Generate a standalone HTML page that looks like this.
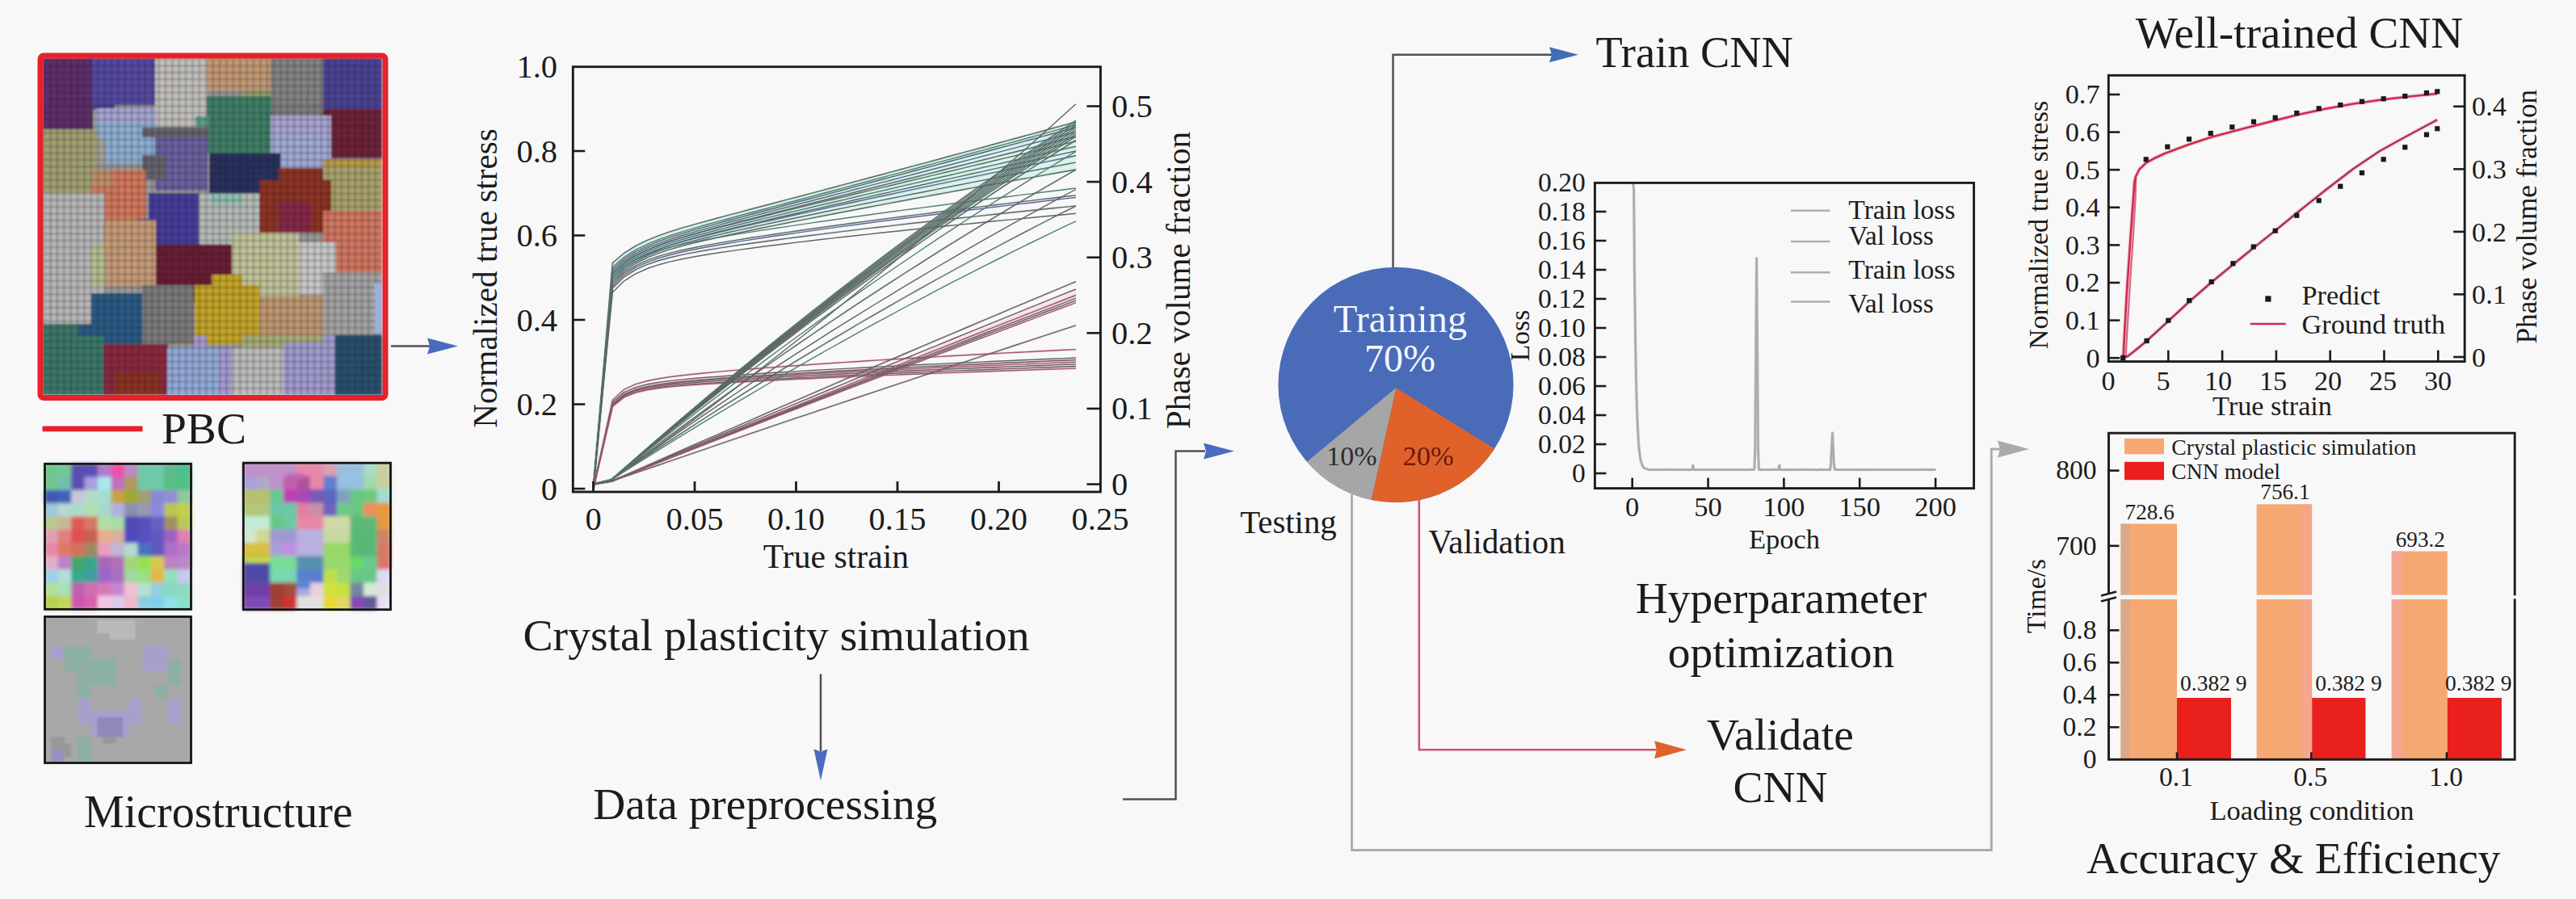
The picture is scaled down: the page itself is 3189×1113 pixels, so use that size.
<!DOCTYPE html>
<html><head><meta charset="utf-8"><title>CNN crystal plasticity workflow</title>
<style>
html,body{margin:0;padding:0;background:#f8f8f8;}
body{width:3189px;height:1113px;overflow:hidden;}
svg{display:block;}
text{font-family:"Liberation Serif",serif;}
</style></head><body>
<svg width="3189" height="1113" viewBox="0 0 3189 1113">
<defs>
<filter id="blur1" x="-5%" y="-5%" width="110%" height="110%"><feGaussianBlur stdDeviation="1.2"/></filter>
<filter id="blur2" x="-5%" y="-5%" width="110%" height="110%"><feGaussianBlur stdDeviation="2.2"/></filter>
<pattern id="grid" x="53.5" y="72.5" width="8.38" height="8.32" patternUnits="userSpaceOnUse">
<path d="M0 0H8.38M0 0V8.32" stroke="#1c1c1c" stroke-opacity="0.5" stroke-width="2.4" fill="none"/>
</pattern>
</defs>
<rect width="3189" height="1113" fill="#f8f8f8"/>
<g id="mosaic">
<g filter="url(#blur1)">
<rect x="53.0" y="72.0" width="420.0" height="417.0" fill="#9c9a98" />
<rect x="53.0" y="72.0" width="62.0" height="89.0" fill="#5e2d6b" />
<rect x="114.0" y="72.0" width="79.0" height="58.0" fill="#5549a3" />
<rect x="114.0" y="128.0" width="28.0" height="8.0" fill="#4b448f" />
<rect x="192.0" y="72.0" width="65.0" height="85.0" fill="#c2c0bd" />
<rect x="256.0" y="72.0" width="80.0" height="40.0" fill="#c49a74" />
<rect x="300.0" y="111.0" width="36.0" height="14.0" fill="#9aa070" />
<rect x="335.0" y="72.0" width="66.0" height="72.0" fill="#858385" />
<rect x="318.0" y="128.0" width="83.0" height="16.0" fill="#7f7d80" />
<rect x="400.0" y="72.0" width="73.0" height="64.0" fill="#4a4396" />
<rect x="400.0" y="135.0" width="73.0" height="61.0" fill="#6f2038" />
<rect x="256.0" y="119.0" width="80.0" height="71.0" fill="#3f7f68" />
<rect x="242.0" y="144.0" width="16.0" height="13.0" fill="#5f9f88" />
<rect x="119.0" y="134.0" width="74.0" height="68.0" fill="#8fb0d3" />
<rect x="119.0" y="134.0" width="74.0" height="18.0" fill="#a6a6d6" />
<rect x="335.0" y="143.0" width="75.0" height="79.0" fill="#a2aad6" />
<rect x="335.0" y="143.0" width="75.0" height="22.0" fill="#aaa4d4" />
<rect x="53.0" y="160.0" width="67.0" height="79.0" fill="#a3a172" />
<rect x="119.0" y="172.0" width="11.0" height="30.0" fill="#a5a396" />
<rect x="192.0" y="158.0" width="65.0" height="78.0" fill="#6a62a0" />
<rect x="176.0" y="158.0" width="82.0" height="12.0" fill="#66646e" />
<rect x="176.0" y="192.0" width="30.0" height="30.0" fill="#66646e" />
<rect x="114.0" y="211.0" width="67.0" height="62.0" fill="#d4785c" />
<rect x="114.0" y="211.0" width="26.0" height="21.0" fill="#c08f6c" />
<rect x="259.0" y="190.0" width="88.0" height="58.0" fill="#27305e" />
<rect x="400.0" y="198.0" width="73.0" height="64.0" fill="#a9a36c" />
<rect x="400.0" y="198.0" width="73.0" height="8.0" fill="#b99c40" />
<rect x="53.0" y="239.0" width="76.0" height="162.0" fill="#b7b7b7" />
<rect x="184.0" y="239.0" width="63.0" height="65.0" fill="#453c9c" />
<rect x="169.0" y="271.0" width="17.0" height="15.0" fill="#453c9c" />
<rect x="246.0" y="239.0" width="75.0" height="63.0" fill="#b4bcb8" />
<rect x="262.0" y="239.0" width="38.0" height="13.0" fill="#8fc0b0" />
<rect x="321.0" y="223.0" width="89.0" height="65.0" fill="#8f3322" />
<rect x="345.0" y="208.0" width="55.0" height="18.0" fill="#8f3322" />
<rect x="345.0" y="250.0" width="40.0" height="38.0" fill="#872848" />
<rect x="400.0" y="261.0" width="73.0" height="77.0" fill="#d27861" />
<rect x="128.0" y="272.0" width="65.0" height="82.0" fill="#c79c78" />
<rect x="113.0" y="303.0" width="17.0" height="51.0" fill="#b5c090" />
<rect x="193.0" y="303.0" width="94.0" height="59.0" fill="#6a1f35" />
<rect x="237.0" y="360.0" width="21.0" height="15.0" fill="#6a1f35" />
<rect x="287.0" y="288.0" width="83.0" height="80.0" fill="#c2c49a" />
<rect x="370.0" y="300.0" width="46.0" height="65.0" fill="#c9c9c9" />
<rect x="400.0" y="337.0" width="73.0" height="78.0" fill="#a4a4a4" />
<rect x="176.0" y="353.0" width="64.0" height="73.0" fill="#7d7b7c" />
<rect x="113.0" y="363.0" width="63.0" height="77.0" fill="#2a5a86" />
<rect x="96.0" y="401.0" width="18.0" height="31.0" fill="#2a5a86" />
<rect x="241.0" y="353.0" width="80.0" height="73.0" fill="#c6a627" />
<rect x="262.0" y="340.0" width="38.0" height="16.0" fill="#c6a627" />
<rect x="321.0" y="367.0" width="79.0" height="49.0" fill="#c19872" />
<rect x="300.0" y="415.0" width="100.0" height="17.0" fill="#a8ac78" />
<rect x="53.0" y="416.0" width="76.0" height="73.0" fill="#3b7869" />
<rect x="53.0" y="401.0" width="44.0" height="17.0" fill="#3b7869" />
<rect x="128.0" y="426.0" width="80.0" height="63.0" fill="#8c2840" />
<rect x="143.0" y="462.0" width="57.0" height="27.0" fill="#8c3222" />
<rect x="207.0" y="431.0" width="81.0" height="58.0" fill="#93aad8" />
<rect x="271.0" y="431.0" width="17.0" height="58.0" fill="#a79ad0" />
<rect x="240.0" y="416.0" width="16.0" height="16.0" fill="#a79ad0" />
<rect x="287.0" y="431.0" width="65.0" height="58.0" fill="#bdbdbd" />
<rect x="351.0" y="424.0" width="65.0" height="65.0" fill="#a19ccf" />
<rect x="400.0" y="415.0" width="16.0" height="17.0" fill="#a19ccf" />
<rect x="415.0" y="415.0" width="58.0" height="74.0" fill="#27506f" />
<rect x="53.5" y="72.5" width="419.0" height="416.0" fill="url(#grid)" />
<rect x="464.0" y="351.0" width="8.0" height="62.0" fill="#9cb0e0" />
</g>
<rect x="50" y="69" width="427" height="423.5" fill="none" stroke="#e8202a" stroke-width="7" rx="4"/>
</g>
<line x1="52.5" y1="530.9" x2="176.5" y2="530.9" stroke="#e8202a" stroke-width="6.6" />
<text x="200.0" y="548.8" font-size="55.5" text-anchor="start" fill="#1c1c1c" >PBC</text>
<g filter="url(#blur2)">
<rect x="55.5" y="574.3" width="181.0" height="180.0" fill="#a0c0b0" />
<rect x="55.2" y="574.0" width="17.1" height="17.0" fill="#6cc98a" />
<rect x="71.7" y="574.0" width="17.1" height="17.0" fill="#74c794" />
<rect x="88.1" y="574.0" width="17.1" height="17.0" fill="#5a4fb0" />
<rect x="104.6" y="574.0" width="17.1" height="17.0" fill="#5a4fb0" />
<rect x="121.0" y="574.0" width="17.1" height="17.0" fill="#b07cc8" />
<rect x="137.5" y="574.0" width="17.1" height="17.0" fill="#f050a8" />
<rect x="153.9" y="574.0" width="17.1" height="17.0" fill="#b88cc0" />
<rect x="170.4" y="574.0" width="17.1" height="17.0" fill="#70c8a8" />
<rect x="186.8" y="574.0" width="17.1" height="17.0" fill="#70c8a8" />
<rect x="203.3" y="574.0" width="17.1" height="17.0" fill="#60b890" />
<rect x="219.7" y="574.0" width="17.1" height="17.0" fill="#4cc090" />
<rect x="55.2" y="590.4" width="17.1" height="17.0" fill="#70c890" />
<rect x="71.7" y="590.4" width="17.1" height="17.0" fill="#70c0b0" />
<rect x="88.1" y="590.4" width="17.1" height="17.0" fill="#5a4fb0" />
<rect x="104.6" y="590.4" width="17.1" height="17.0" fill="#a8a0e0" />
<rect x="121.0" y="590.4" width="17.1" height="17.0" fill="#a8e8f0" />
<rect x="137.5" y="590.4" width="17.1" height="17.0" fill="#c070c0" />
<rect x="153.9" y="590.4" width="17.1" height="17.0" fill="#b09860" />
<rect x="170.4" y="590.4" width="17.1" height="17.0" fill="#70c8a8" />
<rect x="186.8" y="590.4" width="17.1" height="17.0" fill="#70c8a8" />
<rect x="203.3" y="590.4" width="17.1" height="17.0" fill="#58c080" />
<rect x="219.7" y="590.4" width="17.1" height="17.0" fill="#50c088" />
<rect x="55.2" y="606.7" width="17.1" height="17.0" fill="#4058b0" />
<rect x="71.7" y="606.7" width="17.1" height="17.0" fill="#4060c0" />
<rect x="88.1" y="606.7" width="17.1" height="17.0" fill="#c8c8d8" />
<rect x="104.6" y="606.7" width="17.1" height="17.0" fill="#b0dcc8" />
<rect x="121.0" y="606.7" width="17.1" height="17.0" fill="#a8dcd0" />
<rect x="137.5" y="606.7" width="17.1" height="17.0" fill="#c8a040" />
<rect x="153.9" y="606.7" width="17.1" height="17.0" fill="#a0a830" />
<rect x="170.4" y="606.7" width="17.1" height="17.0" fill="#a0a070" />
<rect x="186.8" y="606.7" width="17.1" height="17.0" fill="#8888d8" />
<rect x="203.3" y="606.7" width="17.1" height="17.0" fill="#9090d0" />
<rect x="219.7" y="606.7" width="17.1" height="17.0" fill="#90c8a0" />
<rect x="55.2" y="623.1" width="17.1" height="17.0" fill="#a0c8d8" />
<rect x="71.7" y="623.1" width="17.1" height="17.0" fill="#b8d8d0" />
<rect x="88.1" y="623.1" width="17.1" height="17.0" fill="#a8dcc8" />
<rect x="104.6" y="623.1" width="17.1" height="17.0" fill="#b0e0b0" />
<rect x="121.0" y="623.1" width="17.1" height="17.0" fill="#a8d8c8" />
<rect x="137.5" y="623.1" width="17.1" height="17.0" fill="#b0b0e0" />
<rect x="153.9" y="623.1" width="17.1" height="17.0" fill="#8890b0" />
<rect x="170.4" y="623.1" width="17.1" height="17.0" fill="#9898b0" />
<rect x="186.8" y="623.1" width="17.1" height="17.0" fill="#8c88e0" />
<rect x="203.3" y="623.1" width="17.1" height="17.0" fill="#b8c850" />
<rect x="219.7" y="623.1" width="17.1" height="17.0" fill="#c0d048" />
<rect x="55.2" y="639.5" width="17.1" height="17.0" fill="#b8c890" />
<rect x="71.7" y="639.5" width="17.1" height="17.0" fill="#c8b898" />
<rect x="88.1" y="639.5" width="17.1" height="17.0" fill="#e05858" />
<rect x="104.6" y="639.5" width="17.1" height="17.0" fill="#d87868" />
<rect x="121.0" y="639.5" width="17.1" height="17.0" fill="#b0e0a8" />
<rect x="137.5" y="639.5" width="17.1" height="17.0" fill="#a8dca8" />
<rect x="153.9" y="639.5" width="17.1" height="17.0" fill="#5048b0" />
<rect x="170.4" y="639.5" width="17.1" height="17.0" fill="#5850b8" />
<rect x="186.8" y="639.5" width="17.1" height="17.0" fill="#6860c0" />
<rect x="203.3" y="639.5" width="17.1" height="17.0" fill="#a09060" />
<rect x="219.7" y="639.5" width="17.1" height="17.0" fill="#b8c858" />
<rect x="55.2" y="655.8" width="17.1" height="17.0" fill="#e0a0b0" />
<rect x="71.7" y="655.8" width="17.1" height="17.0" fill="#e08080" />
<rect x="88.1" y="655.8" width="17.1" height="17.0" fill="#e05050" />
<rect x="104.6" y="655.8" width="17.1" height="17.0" fill="#c86050" />
<rect x="121.0" y="655.8" width="17.1" height="17.0" fill="#e8b090" />
<rect x="137.5" y="655.8" width="17.1" height="17.0" fill="#d8b0a0" />
<rect x="153.9" y="655.8" width="17.1" height="17.0" fill="#5048c0" />
<rect x="170.4" y="655.8" width="17.1" height="17.0" fill="#5850c0" />
<rect x="186.8" y="655.8" width="17.1" height="17.0" fill="#6058c0" />
<rect x="203.3" y="655.8" width="17.1" height="17.0" fill="#a060c0" />
<rect x="219.7" y="655.8" width="17.1" height="17.0" fill="#e080b0" />
<rect x="55.2" y="672.2" width="17.1" height="17.0" fill="#e888a8" />
<rect x="71.7" y="672.2" width="17.1" height="17.0" fill="#e07868" />
<rect x="88.1" y="672.2" width="17.1" height="17.0" fill="#d87060" />
<rect x="104.6" y="672.2" width="17.1" height="17.0" fill="#a08860" />
<rect x="121.0" y="672.2" width="17.1" height="17.0" fill="#e8a0c0" />
<rect x="137.5" y="672.2" width="17.1" height="17.0" fill="#c0b8d0" />
<rect x="153.9" y="672.2" width="17.1" height="17.0" fill="#b8d8d0" />
<rect x="170.4" y="672.2" width="17.1" height="17.0" fill="#4870c0" />
<rect x="186.8" y="672.2" width="17.1" height="17.0" fill="#6058c0" />
<rect x="203.3" y="672.2" width="17.1" height="17.0" fill="#b070c8" />
<rect x="219.7" y="672.2" width="17.1" height="17.0" fill="#b878c8" />
<rect x="55.2" y="688.5" width="17.1" height="17.0" fill="#e0b0c8" />
<rect x="71.7" y="688.5" width="17.1" height="17.0" fill="#c080c8" />
<rect x="88.1" y="688.5" width="17.1" height="17.0" fill="#40a868" />
<rect x="104.6" y="688.5" width="17.1" height="17.0" fill="#38a888" />
<rect x="121.0" y="688.5" width="17.1" height="17.0" fill="#a868b8" />
<rect x="137.5" y="688.5" width="17.1" height="17.0" fill="#b070b8" />
<rect x="153.9" y="688.5" width="17.1" height="17.0" fill="#a0d878" />
<rect x="170.4" y="688.5" width="17.1" height="17.0" fill="#98e050" />
<rect x="186.8" y="688.5" width="17.1" height="17.0" fill="#d8c850" />
<rect x="203.3" y="688.5" width="17.1" height="17.0" fill="#c080c0" />
<rect x="219.7" y="688.5" width="17.1" height="17.0" fill="#b888c8" />
<rect x="55.2" y="704.9" width="17.1" height="17.0" fill="#a0d0e8" />
<rect x="71.7" y="704.9" width="17.1" height="17.0" fill="#b0e0d8" />
<rect x="88.1" y="704.9" width="17.1" height="17.0" fill="#38a890" />
<rect x="104.6" y="704.9" width="17.1" height="17.0" fill="#40a0a0" />
<rect x="121.0" y="704.9" width="17.1" height="17.0" fill="#9868c8" />
<rect x="137.5" y="704.9" width="17.1" height="17.0" fill="#a870c0" />
<rect x="153.9" y="704.9" width="17.1" height="17.0" fill="#a0d8a0" />
<rect x="170.4" y="704.9" width="17.1" height="17.0" fill="#98e080" />
<rect x="186.8" y="704.9" width="17.1" height="17.0" fill="#e0b848" />
<rect x="203.3" y="704.9" width="17.1" height="17.0" fill="#90e0c0" />
<rect x="219.7" y="704.9" width="17.1" height="17.0" fill="#c8c8f0" />
<rect x="55.2" y="721.3" width="17.1" height="17.0" fill="#b0e098" />
<rect x="71.7" y="721.3" width="17.1" height="17.0" fill="#a8e0b8" />
<rect x="88.1" y="721.3" width="17.1" height="17.0" fill="#c060b0" />
<rect x="104.6" y="721.3" width="17.1" height="17.0" fill="#d070b0" />
<rect x="121.0" y="721.3" width="17.1" height="17.0" fill="#d878b8" />
<rect x="137.5" y="721.3" width="17.1" height="17.0" fill="#c888d0" />
<rect x="153.9" y="721.3" width="17.1" height="17.0" fill="#f0c0d0" />
<rect x="170.4" y="721.3" width="17.1" height="17.0" fill="#b8e0d0" />
<rect x="186.8" y="721.3" width="17.1" height="17.0" fill="#90d0e0" />
<rect x="203.3" y="721.3" width="17.1" height="17.0" fill="#88d8c0" />
<rect x="219.7" y="721.3" width="17.1" height="17.0" fill="#90d8c0" />
<rect x="55.2" y="737.6" width="17.1" height="17.0" fill="#b8d050" />
<rect x="71.7" y="737.6" width="17.1" height="17.0" fill="#c0d858" />
<rect x="88.1" y="737.6" width="17.1" height="17.0" fill="#c858b0" />
<rect x="104.6" y="737.6" width="17.1" height="17.0" fill="#d860b0" />
<rect x="121.0" y="737.6" width="17.1" height="17.0" fill="#f0c8e0" />
<rect x="137.5" y="737.6" width="17.1" height="17.0" fill="#e0c8e8" />
<rect x="153.9" y="737.6" width="17.1" height="17.0" fill="#f0b8c8" />
<rect x="170.4" y="737.6" width="17.1" height="17.0" fill="#88d0e0" />
<rect x="186.8" y="737.6" width="17.1" height="17.0" fill="#80d0e8" />
<rect x="203.3" y="737.6" width="17.1" height="17.0" fill="#90e0e8" />
<rect x="219.7" y="737.6" width="17.1" height="17.0" fill="#88e0c8" />
</g>
<rect x="55.5" y="574.3" width="181.0" height="180.0" fill="none" stroke="#141414" stroke-width="2.8"/>
<g filter="url(#blur2)">
<rect x="301.3" y="573.2" width="182.2" height="181.5" fill="#a0c0b0" />
<rect x="301.0" y="572.9" width="17.2" height="17.1" fill="#c090c8" />
<rect x="317.6" y="572.9" width="17.2" height="17.1" fill="#c090c8" />
<rect x="334.1" y="572.9" width="17.2" height="17.1" fill="#c090c8" />
<rect x="350.7" y="572.9" width="17.2" height="17.1" fill="#c090c8" />
<rect x="367.3" y="572.9" width="17.2" height="17.1" fill="#e888a8" />
<rect x="383.8" y="572.9" width="17.2" height="17.1" fill="#e888a8" />
<rect x="400.4" y="572.9" width="17.2" height="17.1" fill="#d8a0b0" />
<rect x="416.9" y="572.9" width="17.2" height="17.1" fill="#98c0e0" />
<rect x="433.5" y="572.9" width="17.2" height="17.1" fill="#98c0e0" />
<rect x="450.1" y="572.9" width="17.2" height="17.1" fill="#a8dcc8" />
<rect x="466.6" y="572.9" width="17.2" height="17.1" fill="#c8d0a0" />
<rect x="301.0" y="589.4" width="17.2" height="17.1" fill="#a8a0d8" />
<rect x="317.6" y="589.4" width="17.2" height="17.1" fill="#b0a8c8" />
<rect x="334.1" y="589.4" width="17.2" height="17.1" fill="#c090c8" />
<rect x="350.7" y="589.4" width="17.2" height="17.1" fill="#c060b0" />
<rect x="367.3" y="589.4" width="17.2" height="17.1" fill="#b050a0" />
<rect x="383.8" y="589.4" width="17.2" height="17.1" fill="#e888a8" />
<rect x="400.4" y="589.4" width="17.2" height="17.1" fill="#6080d0" />
<rect x="416.9" y="589.4" width="17.2" height="17.1" fill="#98c0e0" />
<rect x="433.5" y="589.4" width="17.2" height="17.1" fill="#98c0e0" />
<rect x="450.1" y="589.4" width="17.2" height="17.1" fill="#a0dca8" />
<rect x="466.6" y="589.4" width="17.2" height="17.1" fill="#c8d0a0" />
<rect x="301.0" y="605.9" width="17.2" height="17.1" fill="#b8c070" />
<rect x="317.6" y="605.9" width="17.2" height="17.1" fill="#b8c070" />
<rect x="334.1" y="605.9" width="17.2" height="17.1" fill="#68c890" />
<rect x="350.7" y="605.9" width="17.2" height="17.1" fill="#c040b0" />
<rect x="367.3" y="605.9" width="17.2" height="17.1" fill="#a848b8" />
<rect x="383.8" y="605.9" width="17.2" height="17.1" fill="#7858b8" />
<rect x="400.4" y="605.9" width="17.2" height="17.1" fill="#5868c0" />
<rect x="416.9" y="605.9" width="17.2" height="17.1" fill="#80a0c0" />
<rect x="433.5" y="605.9" width="17.2" height="17.1" fill="#68c880" />
<rect x="450.1" y="605.9" width="17.2" height="17.1" fill="#70c880" />
<rect x="466.6" y="605.9" width="17.2" height="17.1" fill="#a0dcd0" />
<rect x="301.0" y="622.4" width="17.2" height="17.1" fill="#b0c878" />
<rect x="317.6" y="622.4" width="17.2" height="17.1" fill="#b0c878" />
<rect x="334.1" y="622.4" width="17.2" height="17.1" fill="#68c8a8" />
<rect x="350.7" y="622.4" width="17.2" height="17.1" fill="#68c8a8" />
<rect x="367.3" y="622.4" width="17.2" height="17.1" fill="#e080a0" />
<rect x="383.8" y="622.4" width="17.2" height="17.1" fill="#c890a8" />
<rect x="400.4" y="622.4" width="17.2" height="17.1" fill="#7060c0" />
<rect x="416.9" y="622.4" width="17.2" height="17.1" fill="#70c888" />
<rect x="433.5" y="622.4" width="17.2" height="17.1" fill="#68c880" />
<rect x="450.1" y="622.4" width="17.2" height="17.1" fill="#e89060" />
<rect x="466.6" y="622.4" width="17.2" height="17.1" fill="#e8983c" />
<rect x="301.0" y="638.9" width="17.2" height="17.1" fill="#c0ecd8" />
<rect x="317.6" y="638.9" width="17.2" height="17.1" fill="#c0ecd8" />
<rect x="334.1" y="638.9" width="17.2" height="17.1" fill="#68c888" />
<rect x="350.7" y="638.9" width="17.2" height="17.1" fill="#70c8a0" />
<rect x="367.3" y="638.9" width="17.2" height="17.1" fill="#e888a8" />
<rect x="383.8" y="638.9" width="17.2" height="17.1" fill="#e888a8" />
<rect x="400.4" y="638.9" width="17.2" height="17.1" fill="#d0d8a8" />
<rect x="416.9" y="638.9" width="17.2" height="17.1" fill="#d0d8a8" />
<rect x="433.5" y="638.9" width="17.2" height="17.1" fill="#60b878" />
<rect x="450.1" y="638.9" width="17.2" height="17.1" fill="#60b878" />
<rect x="466.6" y="638.9" width="17.2" height="17.1" fill="#e8983c" />
<rect x="301.0" y="655.4" width="17.2" height="17.1" fill="#d0e8d0" />
<rect x="317.6" y="655.4" width="17.2" height="17.1" fill="#d0d890" />
<rect x="334.1" y="655.4" width="17.2" height="17.1" fill="#a098d0" />
<rect x="350.7" y="655.4" width="17.2" height="17.1" fill="#a098d0" />
<rect x="367.3" y="655.4" width="17.2" height="17.1" fill="#b8b0e0" />
<rect x="383.8" y="655.4" width="17.2" height="17.1" fill="#b8b0e0" />
<rect x="400.4" y="655.4" width="17.2" height="17.1" fill="#c8d8a0" />
<rect x="416.9" y="655.4" width="17.2" height="17.1" fill="#c8d8a0" />
<rect x="433.5" y="655.4" width="17.2" height="17.1" fill="#58b878" />
<rect x="450.1" y="655.4" width="17.2" height="17.1" fill="#58b878" />
<rect x="466.6" y="655.4" width="17.2" height="17.1" fill="#c88868" />
<rect x="301.0" y="671.9" width="17.2" height="17.1" fill="#d8c040" />
<rect x="317.6" y="671.9" width="17.2" height="17.1" fill="#d8c040" />
<rect x="334.1" y="671.9" width="17.2" height="17.1" fill="#a8a0d8" />
<rect x="350.7" y="671.9" width="17.2" height="17.1" fill="#c090e0" />
<rect x="367.3" y="671.9" width="17.2" height="17.1" fill="#b8b0e0" />
<rect x="383.8" y="671.9" width="17.2" height="17.1" fill="#b8b0e0" />
<rect x="400.4" y="671.9" width="17.2" height="17.1" fill="#98d868" />
<rect x="416.9" y="671.9" width="17.2" height="17.1" fill="#98d868" />
<rect x="433.5" y="671.9" width="17.2" height="17.1" fill="#58b878" />
<rect x="450.1" y="671.9" width="17.2" height="17.1" fill="#58b878" />
<rect x="466.6" y="671.9" width="17.2" height="17.1" fill="#d87868" />
<rect x="301.0" y="688.4" width="17.2" height="17.1" fill="#5048a8" />
<rect x="317.6" y="688.4" width="17.2" height="17.1" fill="#5048a8" />
<rect x="334.1" y="688.4" width="17.2" height="17.1" fill="#78dc98" />
<rect x="350.7" y="688.4" width="17.2" height="17.1" fill="#78dc98" />
<rect x="367.3" y="688.4" width="17.2" height="17.1" fill="#5890b0" />
<rect x="383.8" y="688.4" width="17.2" height="17.1" fill="#5890b0" />
<rect x="400.4" y="688.4" width="17.2" height="17.1" fill="#98d870" />
<rect x="416.9" y="688.4" width="17.2" height="17.1" fill="#98d870" />
<rect x="433.5" y="688.4" width="17.2" height="17.1" fill="#68d868" />
<rect x="450.1" y="688.4" width="17.2" height="17.1" fill="#68c890" />
<rect x="466.6" y="688.4" width="17.2" height="17.1" fill="#d87868" />
<rect x="301.0" y="704.9" width="17.2" height="17.1" fill="#5048a8" />
<rect x="317.6" y="704.9" width="17.2" height="17.1" fill="#5048a8" />
<rect x="334.1" y="704.9" width="17.2" height="17.1" fill="#78d8b0" />
<rect x="350.7" y="704.9" width="17.2" height="17.1" fill="#78d8b0" />
<rect x="367.3" y="704.9" width="17.2" height="17.1" fill="#5880d0" />
<rect x="383.8" y="704.9" width="17.2" height="17.1" fill="#5880d0" />
<rect x="400.4" y="704.9" width="17.2" height="17.1" fill="#c0e048" />
<rect x="416.9" y="704.9" width="17.2" height="17.1" fill="#a0d870" />
<rect x="433.5" y="704.9" width="17.2" height="17.1" fill="#68c888" />
<rect x="450.1" y="704.9" width="17.2" height="17.1" fill="#68c888" />
<rect x="466.6" y="704.9" width="17.2" height="17.1" fill="#e0d8f8" />
<rect x="301.0" y="721.4" width="17.2" height="17.1" fill="#7040a8" />
<rect x="317.6" y="721.4" width="17.2" height="17.1" fill="#7040a8" />
<rect x="334.1" y="721.4" width="17.2" height="17.1" fill="#a04030" />
<rect x="350.7" y="721.4" width="17.2" height="17.1" fill="#a05038" />
<rect x="367.3" y="721.4" width="17.2" height="17.1" fill="#a8a8e0" />
<rect x="383.8" y="721.4" width="17.2" height="17.1" fill="#e8d0d8" />
<rect x="400.4" y="721.4" width="17.2" height="17.1" fill="#d0e040" />
<rect x="416.9" y="721.4" width="17.2" height="17.1" fill="#c8e040" />
<rect x="433.5" y="721.4" width="17.2" height="17.1" fill="#7088a0" />
<rect x="450.1" y="721.4" width="17.2" height="17.1" fill="#d8e8d8" />
<rect x="466.6" y="721.4" width="17.2" height="17.1" fill="#e0e0e0" />
<rect x="301.0" y="737.9" width="17.2" height="17.1" fill="#8048b8" />
<rect x="317.6" y="737.9" width="17.2" height="17.1" fill="#8048b8" />
<rect x="334.1" y="737.9" width="17.2" height="17.1" fill="#a04030" />
<rect x="350.7" y="737.9" width="17.2" height="17.1" fill="#d03030" />
<rect x="367.3" y="737.9" width="17.2" height="17.1" fill="#e0e0e0" />
<rect x="383.8" y="737.9" width="17.2" height="17.1" fill="#e0e0e0" />
<rect x="400.4" y="737.9" width="17.2" height="17.1" fill="#e8d830" />
<rect x="416.9" y="737.9" width="17.2" height="17.1" fill="#e0d860" />
<rect x="433.5" y="737.9" width="17.2" height="17.1" fill="#8848b8" />
<rect x="450.1" y="737.9" width="17.2" height="17.1" fill="#605898" />
<rect x="466.6" y="737.9" width="17.2" height="17.1" fill="#e8e0f8" />
<rect x="301.3" y="688.7" width="33.1" height="8.2" fill="#c8d83c" />
<rect x="367.6" y="721.7" width="16.6" height="6.6" fill="#5880d0" />
<rect x="356.0" y="586.4" width="19.9" height="8.2" fill="#c060b0" />
</g>
<rect x="301.3" y="573.2" width="182.2" height="181.5" fill="none" stroke="#141414" stroke-width="2.8"/>
<g filter="url(#blur1)">
<rect x="55.5" y="763.5" width="181.0" height="181.0" fill="#a8a8a8" />
<rect x="120.6" y="767.5" width="46.7" height="16.4" fill="#b9b9b9" />
<rect x="135.8" y="783.9" width="31.5" height="8.2" fill="#b9b9b9" />
<rect x="63.4" y="800.2" width="16.4" height="15.2" fill="#a8a0cc" />
<rect x="79.7" y="800.2" width="32.7" height="31.5" fill="#8cb0a4" />
<rect x="96.1" y="815.4" width="47.9" height="32.7" fill="#8cb0a4" />
<rect x="96.1" y="848.1" width="16.4" height="16.4" fill="#8cb0a4" />
<rect x="176.7" y="800.2" width="31.5" height="31.5" fill="#a8a0cc" />
<rect x="208.2" y="815.4" width="16.4" height="32.7" fill="#8cb0a4" />
<rect x="191.8" y="848.1" width="16.4" height="16.4" fill="#8cb0a4" />
<rect x="96.1" y="864.5" width="16.4" height="31.5" fill="#a8a0cc" />
<rect x="112.4" y="879.6" width="63.1" height="16.4" fill="#a8a0cc" />
<rect x="160.3" y="864.5" width="15.2" height="31.5" fill="#a8a0cc" />
<rect x="112.4" y="896.0" width="47.9" height="16.4" fill="#a8a0cc" />
<rect x="120.6" y="887.8" width="31.5" height="24.5" fill="#9088b8" />
<rect x="127.6" y="912.3" width="16.4" height="8.2" fill="#989898" />
<rect x="208.2" y="864.5" width="16.4" height="31.5" fill="#a8a0cc" />
<rect x="63.4" y="912.3" width="16.4" height="15.2" fill="#989898" />
<rect x="79.7" y="920.5" width="8.2" height="16.4" fill="#989898" />
<rect x="63.4" y="927.5" width="16.4" height="16.4" fill="#9890c0" />
<rect x="96.1" y="912.3" width="16.4" height="31.5" fill="#8cb0a4" />
</g>
<rect x="55.5" y="763.5" width="181" height="181" fill="none" stroke="#141414" stroke-width="2.8"/>
<text x="270.3" y="1023.7" font-size="56" text-anchor="middle" fill="#1c1c1c" >Microstructure</text>
<line x1="484.0" y1="428.4" x2="535.0" y2="428.4" stroke="#505058" stroke-width="2.5" />
<polygon points="567.0,428.4 529.0,418.4 532.0,428.4 529.0,438.4" fill="#4a6cc0"/>
<g id="chart1curves">
<polygon points="758.3,325.5 772.7,313.3 787.0,304.3 801.4,297.3 815.7,291.6 830.0,286.7 844.4,282.2 858.7,278.1 873.1,274.1 887.4,270.2 901.7,266.4 916.1,262.6 930.4,258.8 944.7,255.0 959.1,251.2 973.4,247.4 987.8,243.7 1002.1,239.9 1016.4,236.1 1030.8,232.3 1045.1,228.4 1059.5,224.6 1073.8,220.8 1088.1,217.0 1102.5,213.1 1116.8,209.3 1131.1,205.4 1145.5,201.6 1159.8,197.7 1174.2,193.8 1188.5,189.9 1202.8,186.1 1217.2,182.2 1231.5,178.3 1245.8,174.4 1260.2,170.5 1274.5,166.6 1288.9,162.7 1303.2,158.8 1317.5,154.9 1331.9,150.9 1331.9,210.0 1317.5,212.5 1303.2,215.0 1288.9,217.6 1274.5,220.1 1260.2,222.6 1245.8,225.2 1231.5,227.8 1217.2,230.3 1202.8,232.9 1188.5,235.5 1174.2,238.1 1159.8,240.8 1145.5,243.4 1131.1,246.0 1116.8,248.7 1102.5,251.4 1088.1,254.1 1073.8,256.8 1059.5,259.5 1045.1,262.2 1030.8,265.0 1016.4,267.8 1002.1,270.6 987.8,273.4 973.4,276.2 959.1,279.1 944.7,282.0 930.4,285.0 916.1,288.0 901.7,291.0 887.4,294.2 873.1,297.5 858.7,300.9 844.4,304.6 830.0,308.7 815.7,313.4 801.4,318.9 787.0,326.0 772.7,335.4 758.3,349.0" fill="#8fe6d0" fill-opacity="0.3"/>
<polygon points="757.1,593.9 776.2,576.9 795.4,560.1 814.6,543.4 833.7,526.9 852.9,510.5 872.0,494.3 891.2,478.2 910.4,462.3 929.5,446.5 948.7,430.9 967.8,415.4 987.0,400.0 1006.2,384.8 1025.3,369.8 1044.5,354.9 1063.6,340.2 1082.8,325.6 1102.0,311.1 1121.1,296.8 1140.3,282.7 1159.4,268.7 1178.6,254.8 1197.8,241.1 1216.9,227.5 1236.1,214.1 1255.2,200.9 1274.4,187.7 1293.6,174.8 1312.7,162.0 1331.9,149.3 1331.9,173.6 1312.7,185.6 1293.6,197.7 1274.4,210.0 1255.2,222.4 1236.1,234.9 1216.9,247.6 1197.8,260.4 1178.6,273.4 1159.4,286.5 1140.3,299.7 1121.1,313.1 1102.0,326.6 1082.8,340.3 1063.6,354.1 1044.5,368.0 1025.3,382.1 1006.2,396.3 987.0,410.6 967.8,425.1 948.7,439.8 929.5,454.6 910.4,469.5 891.2,484.5 872.0,499.7 852.9,515.1 833.7,530.6 814.6,546.2 795.4,561.9 776.2,577.8 757.1,593.9" fill="#8fe6d0" fill-opacity="0.3"/>
<polygon points="758.3,497.9 772.7,485.6 787.0,479.5 801.4,475.8 815.7,473.3 830.0,471.4 844.4,469.9 858.7,468.5 873.1,467.3 887.4,466.2 901.7,465.2 916.1,464.2 930.4,463.2 944.7,462.2 959.1,461.3 973.4,460.5 987.8,459.6 1002.1,458.8 1016.4,457.9 1030.8,457.1 1045.1,456.4 1059.5,455.6 1073.8,454.8 1088.1,454.1 1102.5,453.4 1116.8,452.7 1131.1,452.0 1145.5,451.3 1159.8,450.6 1174.2,449.9 1188.5,449.2 1202.8,448.6 1217.2,447.9 1231.5,447.3 1245.8,446.7 1260.2,446.0 1274.5,445.4 1288.9,444.8 1303.2,444.2 1317.5,443.6 1331.9,443.0 1331.9,456.1 1317.5,456.6 1303.2,457.0 1288.9,457.5 1274.5,458.0 1260.2,458.5 1245.8,459.0 1231.5,459.5 1217.2,460.0 1202.8,460.5 1188.5,461.1 1174.2,461.6 1159.8,462.1 1145.5,462.7 1131.1,463.2 1116.8,463.8 1102.5,464.4 1088.1,464.9 1073.8,465.5 1059.5,466.1 1045.1,466.8 1030.8,467.4 1016.4,468.0 1002.1,468.7 987.8,469.3 973.4,470.0 959.1,470.7 944.7,471.5 930.4,472.2 916.1,473.0 901.7,473.8 887.4,474.7 873.1,475.6 858.7,476.5 844.4,477.6 830.0,478.9 815.7,480.5 801.4,482.7 787.0,486.0 772.7,491.7 758.3,503.1" fill="#f3a0b8" fill-opacity="0.25"/>
<polygon points="757.1,595.8 776.2,587.6 795.4,579.5 814.6,571.3 833.7,563.2 852.9,555.1 872.0,547.1 891.2,539.0 910.4,531.0 929.5,522.9 948.7,514.9 967.8,506.9 987.0,498.9 1006.2,491.0 1025.3,483.0 1044.5,475.1 1063.6,467.2 1082.8,459.3 1102.0,451.4 1121.1,443.5 1140.3,435.7 1159.4,427.8 1178.6,420.0 1197.8,412.2 1216.9,404.4 1236.1,396.6 1255.2,388.9 1274.4,381.1 1293.6,373.4 1312.7,365.7 1331.9,358.0 1331.9,374.9 1312.7,382.0 1293.6,389.2 1274.4,396.4 1255.2,403.5 1236.1,410.8 1216.9,418.0 1197.8,425.2 1178.6,432.5 1159.4,439.7 1140.3,447.0 1121.1,454.3 1102.0,461.6 1082.8,469.0 1063.6,476.3 1044.5,483.7 1025.3,491.0 1006.2,498.4 987.0,505.8 967.8,513.2 948.7,520.7 929.5,528.1 910.4,535.6 891.2,543.0 872.0,550.5 852.9,558.0 833.7,565.5 814.6,573.1 795.4,580.6 776.2,588.2 757.1,595.8" fill="#f3a0b8" fill-opacity="0.22"/>
<polyline points="734.5,605.0 758.3,325.5 772.7,313.3 787.0,304.3 801.4,297.3 815.7,291.6 830.0,286.7 844.4,282.2 858.7,278.1 873.1,274.1 887.4,270.2 901.7,266.4 916.1,262.6 930.4,258.8 944.7,255.0 959.1,251.2 973.4,247.4 987.8,243.7 1002.1,239.9 1016.4,236.1 1030.8,232.3 1045.1,228.4 1059.5,224.6 1073.8,220.8 1088.1,217.0 1102.5,213.1 1116.8,209.3 1131.1,205.4 1145.5,201.6 1159.8,197.7 1174.2,193.8 1188.5,189.9 1202.8,186.1 1217.2,182.2 1231.5,178.3 1245.8,174.4 1260.2,170.5 1274.5,166.6 1288.9,162.7 1303.2,158.8 1317.5,154.9 1331.9,150.9" fill="none" stroke="#4fc7a8" stroke-width="3.2" stroke-linejoin="round" stroke-opacity="0.15"/>
<polyline points="734.5,605.0 758.3,333.3 772.7,320.9 787.0,311.7 801.4,304.6 815.7,298.7 830.0,293.7 844.4,289.1 858.7,284.9 873.1,280.8 887.4,276.9 901.7,273.0 916.1,269.1 930.4,265.3 944.7,261.5 959.1,257.7 973.4,253.8 987.8,250.0 1002.1,246.2 1016.4,242.4 1030.8,238.6 1045.1,234.8 1059.5,230.9 1073.8,227.1 1088.1,223.3 1102.5,219.4 1116.8,215.6 1131.1,211.8 1145.5,207.9 1159.8,204.1 1174.2,200.2 1188.5,196.4 1202.8,192.5 1217.2,188.7 1231.5,184.8 1245.8,180.9 1260.2,177.1 1274.5,173.2 1288.9,169.4 1303.2,165.5 1317.5,161.6 1331.9,157.7" fill="none" stroke="#4fc7a8" stroke-width="3.2" stroke-linejoin="round" stroke-opacity="0.15"/>
<polyline points="734.5,605.0 758.3,338.5 772.7,325.8 787.0,316.5 801.4,309.3 815.7,303.5 830.0,298.4 844.4,293.9 858.7,289.7 873.1,285.7 887.4,281.8 901.7,278.1 916.1,274.3 930.4,270.6 944.7,266.9 959.1,263.3 973.4,259.6 987.8,256.0 1002.1,252.3 1016.4,248.7 1030.8,245.0 1045.1,241.4 1059.5,237.8 1073.8,234.2 1088.1,230.5 1102.5,226.9 1116.8,223.3 1131.1,219.7 1145.5,216.1 1159.8,212.5 1174.2,208.8 1188.5,205.2 1202.8,201.6 1217.2,198.0 1231.5,194.4 1245.8,190.8 1260.2,187.2 1274.5,183.6 1288.9,180.0 1303.2,176.4 1317.5,172.8 1331.9,169.2" fill="none" stroke="#4fc7a8" stroke-width="3.2" stroke-linejoin="round" stroke-opacity="0.15"/>
<polyline points="734.5,605.0 758.3,341.1 772.7,328.2 787.0,318.8 801.4,311.7 815.7,305.9 830.0,300.9 844.4,296.5 858.7,292.5 873.1,288.7 887.4,285.0 901.7,281.4 916.1,277.8 930.4,274.3 944.7,270.9 959.1,267.4 973.4,264.0 987.8,260.6 1002.1,257.2 1016.4,253.8 1030.8,250.5 1045.1,247.1 1059.5,243.8 1073.8,240.4 1088.1,237.1 1102.5,233.7 1116.8,230.4 1131.1,227.1 1145.5,223.8 1159.8,220.5 1174.2,217.2 1188.5,213.9 1202.8,210.6 1217.2,207.3 1231.5,204.1 1245.8,200.8 1260.2,197.5 1274.5,194.3 1288.9,191.0 1303.2,187.7 1317.5,184.5 1331.9,181.3" fill="none" stroke="#4fc7a8" stroke-width="3.2" stroke-linejoin="round" stroke-opacity="0.15"/>
<polyline points="734.5,605.0 758.3,343.8 772.7,330.5 787.0,321.2 801.4,314.1 815.7,308.4 830.0,303.5 844.4,299.3 858.7,295.4 873.1,291.7 887.4,288.2 901.7,284.8 916.1,281.4 930.4,278.1 944.7,274.9 959.1,271.7 973.4,268.5 987.8,265.3 1002.1,262.1 1016.4,259.0 1030.8,255.9 1045.1,252.8 1059.5,249.7 1073.8,246.6 1088.1,243.5 1102.5,240.5 1116.8,237.4 1131.1,234.4 1145.5,231.4 1159.8,228.4 1174.2,225.4 1188.5,222.4 1202.8,219.4 1217.2,216.4 1231.5,213.4 1245.8,210.4 1260.2,207.5 1274.5,204.5 1288.9,201.6 1303.2,198.6 1317.5,195.7 1331.9,192.7" fill="none" stroke="#4fc7a8" stroke-width="3.2" stroke-linejoin="round" stroke-opacity="0.15"/>
<polyline points="734.5,605.0 758.3,349.0 772.7,335.4 787.0,326.0 801.4,318.9 815.7,313.4 830.0,308.7 844.4,304.6 858.7,300.9 873.1,297.5 887.4,294.2 901.7,291.0 916.1,288.0 930.4,285.0 944.7,282.0 959.1,279.1 973.4,276.2 987.8,273.4 1002.1,270.6 1016.4,267.8 1030.8,265.0 1045.1,262.2 1059.5,259.5 1073.8,256.8 1088.1,254.1 1102.5,251.4 1116.8,248.7 1131.1,246.0 1145.5,243.4 1159.8,240.8 1174.2,238.1 1188.5,235.5 1202.8,232.9 1217.2,230.3 1231.5,227.8 1245.8,225.2 1260.2,222.6 1274.5,220.1 1288.9,217.6 1303.2,215.0 1317.5,212.5 1331.9,210.0" fill="none" stroke="#4fc7a8" stroke-width="3.2" stroke-linejoin="round" stroke-opacity="0.15"/>
<polyline points="734.5,605.0 758.3,351.6 772.7,337.8 787.0,328.8 801.4,322.2 815.7,317.2 830.0,313.1 844.4,309.7 858.7,306.7 873.1,303.9 887.4,301.4 901.7,298.9 916.1,296.6 930.4,294.3 944.7,292.1 959.1,290.0 973.4,287.9 987.8,285.8 1002.1,283.8 1016.4,281.7 1030.8,279.7 1045.1,277.8 1059.5,275.8 1073.8,273.9 1088.1,272.0 1102.5,270.1 1116.8,268.3 1131.1,266.4 1145.5,264.6 1159.8,262.7 1174.2,260.9 1188.5,259.1 1202.8,257.4 1217.2,255.6 1231.5,253.8 1245.8,252.1 1260.2,250.4 1274.5,248.6 1288.9,246.9 1303.2,245.2 1317.5,243.5 1331.9,241.9" fill="none" stroke="#4fc7a8" stroke-width="3.2" stroke-linejoin="round" stroke-opacity="0.15"/>
<polyline points="734.5,605.0 758.3,356.8 772.7,342.8 787.0,333.8 801.4,327.4 815.7,322.5 830.0,318.7 844.4,315.4 858.7,312.6 873.1,310.0 887.4,307.6 901.7,305.4 916.1,303.3 930.4,301.2 944.7,299.2 959.1,297.3 973.4,295.4 987.8,293.5 1002.1,291.7 1016.4,289.9 1030.8,288.1 1045.1,286.4 1059.5,284.6 1073.8,282.9 1088.1,281.3 1102.5,279.6 1116.8,277.9 1131.1,276.3 1145.5,274.7 1159.8,273.1 1174.2,271.5 1188.5,270.0 1202.8,268.4 1217.2,266.9 1231.5,265.3 1245.8,263.8 1260.2,262.3 1274.5,260.8 1288.9,259.3 1303.2,257.8 1317.5,256.4 1331.9,254.9" fill="none" stroke="#4fc7a8" stroke-width="3.2" stroke-linejoin="round" stroke-opacity="0.15"/>
<polyline points="734.5,605.0 758.3,495.3 772.7,482.1 787.0,475.6 801.4,471.5 815.7,468.7 830.0,466.5 844.4,464.8 858.7,463.2 873.1,461.7 887.4,460.4 901.7,459.1 916.1,457.9 930.4,456.8 944.7,455.6 959.1,454.6 973.4,453.5 987.8,452.5 1002.1,451.5 1016.4,450.5 1030.8,449.5 1045.1,448.6 1059.5,447.7 1073.8,446.7 1088.1,445.9 1102.5,445.0 1116.8,444.1 1131.1,443.3 1145.5,442.5 1159.8,441.6 1174.2,440.8 1188.5,440.0 1202.8,439.2 1217.2,438.5 1231.5,437.7 1245.8,436.9 1260.2,436.2 1274.5,435.5 1288.9,434.7 1303.2,434.0 1317.5,433.3 1331.9,432.6" fill="none" stroke="#e0507a" stroke-width="3.2" stroke-linejoin="round" stroke-opacity="0.15"/>
<polyline points="734.5,605.0 758.3,500.5 772.7,488.2 787.0,482.1 801.4,478.4 815.7,475.9 830.0,474.0 844.4,472.5 858.7,471.2 873.1,470.0 887.4,468.8 901.7,467.8 916.1,466.8 930.4,465.8 944.7,464.9 959.1,464.0 973.4,463.1 987.8,462.2 1002.1,461.4 1016.4,460.6 1030.8,459.8 1045.1,459.0 1059.5,458.2 1073.8,457.4 1088.1,456.7 1102.5,456.0 1116.8,455.3 1131.1,454.6 1145.5,453.9 1159.8,453.2 1174.2,452.5 1188.5,451.9 1202.8,451.2 1217.2,450.5 1231.5,449.9 1245.8,449.3 1260.2,448.7 1274.5,448.0 1288.9,447.4 1303.2,446.8 1317.5,446.2 1331.9,445.6" fill="none" stroke="#e0507a" stroke-width="3.2" stroke-linejoin="round" stroke-opacity="0.15"/>
<polyline points="734.5,605.0 758.3,501.5 772.7,489.7 787.0,483.8 801.4,480.3 815.7,478.0 830.0,476.3 844.4,474.9 858.7,473.7 873.1,472.6 887.4,471.6 901.7,470.6 916.1,469.7 930.4,468.9 944.7,468.0 959.1,467.2 973.4,466.4 987.8,465.7 1002.1,464.9 1016.4,464.2 1030.8,463.5 1045.1,462.8 1059.5,462.1 1073.8,461.4 1088.1,460.8 1102.5,460.1 1116.8,459.5 1131.1,458.8 1145.5,458.2 1159.8,457.6 1174.2,457.0 1188.5,456.4 1202.8,455.8 1217.2,455.2 1231.5,454.7 1245.8,454.1 1260.2,453.6 1274.5,453.0 1288.9,452.5 1303.2,451.9 1317.5,451.4 1331.9,450.9" fill="none" stroke="#e0507a" stroke-width="3.2" stroke-linejoin="round" stroke-opacity="0.15"/>
<polyline points="734.5,605.0 758.3,503.1 772.7,491.7 787.0,486.0 801.4,482.7 815.7,480.5 830.0,478.9 844.4,477.6 858.7,476.5 873.1,475.6 887.4,474.7 901.7,473.8 916.1,473.0 930.4,472.2 944.7,471.5 959.1,470.7 973.4,470.0 987.8,469.3 1002.1,468.7 1016.4,468.0 1030.8,467.4 1045.1,466.8 1059.5,466.1 1073.8,465.5 1088.1,464.9 1102.5,464.4 1116.8,463.8 1131.1,463.2 1145.5,462.7 1159.8,462.1 1174.2,461.6 1188.5,461.1 1202.8,460.5 1217.2,460.0 1231.5,459.5 1245.8,459.0 1260.2,458.5 1274.5,458.0 1288.9,457.5 1303.2,457.0 1317.5,456.6 1331.9,456.1" fill="none" stroke="#e0507a" stroke-width="3.2" stroke-linejoin="round" stroke-opacity="0.15"/>
<polyline points="734.5,599.5 757.1,593.9 776.2,576.9 795.4,560.1 814.6,543.4 833.7,526.9 852.9,510.5 872.0,494.3 891.2,478.2 910.4,462.3 929.5,446.5 948.7,430.9 967.8,415.4 987.0,400.0 1006.2,384.8 1025.3,369.8 1044.5,354.9 1063.6,340.2 1082.8,325.6 1102.0,311.1 1121.1,296.8 1140.3,282.7 1159.4,268.7 1178.6,254.8 1197.8,241.1 1216.9,227.5 1236.1,214.1 1255.2,200.9 1274.4,187.7 1293.6,174.8 1312.7,162.0 1331.9,149.3" fill="none" stroke="#4fc7a8" stroke-width="3.2" stroke-linejoin="round" stroke-opacity="0.15"/>
<polyline points="734.5,599.5 757.1,593.9 776.2,577.1 795.4,560.5 814.6,544.1 833.7,527.7 852.9,511.6 872.0,495.6 891.2,479.7 910.4,463.9 929.5,448.4 948.7,432.9 967.8,417.6 987.0,402.5 1006.2,387.5 1025.3,372.6 1044.5,357.9 1063.6,343.4 1082.8,329.0 1102.0,314.7 1121.1,300.6 1140.3,286.6 1159.4,272.8 1178.6,259.1 1197.8,245.6 1216.9,232.2 1236.1,218.9 1255.2,205.8 1274.4,192.9 1293.6,180.1 1312.7,167.4 1331.9,154.9" fill="none" stroke="#4fc7a8" stroke-width="3.2" stroke-linejoin="round" stroke-opacity="0.15"/>
<polyline points="734.5,599.5 757.1,593.9 776.2,577.3 795.4,560.9 814.6,544.7 833.7,528.6 852.9,512.6 872.0,496.8 891.2,481.1 910.4,465.6 929.5,450.2 948.7,435.0 967.8,419.9 987.0,404.9 1006.2,390.1 1025.3,375.5 1044.5,360.9 1063.6,346.6 1082.8,332.3 1102.0,318.3 1121.1,304.3 1140.3,290.5 1159.4,276.9 1178.6,263.4 1197.8,250.0 1216.9,236.8 1236.1,223.7 1255.2,210.8 1274.4,198.0 1293.6,185.4 1312.7,172.9 1331.9,160.5" fill="none" stroke="#4fc7a8" stroke-width="3.2" stroke-linejoin="round" stroke-opacity="0.15"/>
<polyline points="734.5,599.5 757.1,593.9 776.2,577.6 795.4,561.4 814.6,545.3 833.7,529.4 852.9,513.7 872.0,498.1 891.2,482.6 910.4,467.3 929.5,452.1 948.7,437.0 967.8,422.1 987.0,407.4 1006.2,392.8 1025.3,378.3 1044.5,364.0 1063.6,349.8 1082.8,335.7 1102.0,321.8 1121.1,308.1 1140.3,294.5 1159.4,281.0 1178.6,267.7 1197.8,254.5 1216.9,241.4 1236.1,228.5 1255.2,215.8 1274.4,203.1 1293.6,190.7 1312.7,178.3 1331.9,166.1" fill="none" stroke="#4fc7a8" stroke-width="3.2" stroke-linejoin="round" stroke-opacity="0.15"/>
<polyline points="734.5,599.5 757.1,593.9 776.2,577.8 795.4,561.9 814.6,546.2 833.7,530.6 852.9,515.1 872.0,499.7 891.2,484.5 910.4,469.5 929.5,454.6 948.7,439.8 967.8,425.1 987.0,410.6 1006.2,396.3 1025.3,382.1 1044.5,368.0 1063.6,354.1 1082.8,340.3 1102.0,326.6 1121.1,313.1 1140.3,299.7 1159.4,286.5 1178.6,273.4 1197.8,260.4 1216.9,247.6 1236.1,234.9 1255.2,222.4 1274.4,210.0 1293.6,197.7 1312.7,185.6 1331.9,173.6" fill="none" stroke="#4fc7a8" stroke-width="3.2" stroke-linejoin="round" stroke-opacity="0.15"/>
<polyline points="734.5,599.5 757.1,593.9 776.2,579.2 795.4,564.7 814.6,550.3 833.7,536.1 852.9,521.9 872.0,507.9 891.2,494.0 910.4,480.3 929.5,466.7 948.7,453.2 967.8,439.8 987.0,426.6 1006.2,413.5 1025.3,400.5 1044.5,387.6 1063.6,374.9 1082.8,362.3 1102.0,349.8 1121.1,337.5 1140.3,325.3 1159.4,313.2 1178.6,301.2 1197.8,289.4 1216.9,277.7 1236.1,266.1 1255.2,254.6 1274.4,243.3 1293.6,232.1 1312.7,221.1 1331.9,210.1" fill="none" stroke="#4fc7a8" stroke-width="3.2" stroke-linejoin="round" stroke-opacity="0.15"/>
<polyline points="734.5,599.5 757.1,593.9 776.2,581.0 795.4,568.1 814.6,555.4 833.7,542.8 852.9,530.4 872.0,518.0 891.2,505.7 910.4,493.6 929.5,481.6 948.7,469.6 967.8,457.8 987.0,446.2 1006.2,434.6 1025.3,423.1 1044.5,411.8 1063.6,400.5 1082.8,389.4 1102.0,378.4 1121.1,367.5 1140.3,356.7 1159.4,346.0 1178.6,335.5 1197.8,325.0 1216.9,314.7 1236.1,304.5 1255.2,294.4 1274.4,284.4 1293.6,274.5 1312.7,264.7 1331.9,255.1" fill="none" stroke="#4fc7a8" stroke-width="3.2" stroke-linejoin="round" stroke-opacity="0.15"/>
<polyline points="734.5,599.5 757.1,595.8 776.2,587.3 795.4,578.8 814.6,570.4 833.7,562.0 852.9,553.5 872.0,545.1 891.2,536.8 910.4,528.4 929.5,520.1 948.7,511.7 967.8,503.4 987.0,495.1 1006.2,486.9 1025.3,478.6 1044.5,470.4 1063.6,462.1 1082.8,453.9 1102.0,445.7 1121.1,437.5 1140.3,429.4 1159.4,421.2 1178.6,413.1 1197.8,405.0 1216.9,396.9 1236.1,388.8 1255.2,380.7 1274.4,372.7 1293.6,364.7 1312.7,356.6 1331.9,348.7" fill="none" stroke="#e0507a" stroke-width="3.2" stroke-linejoin="round" stroke-opacity="0.15"/>
<polyline points="734.5,599.5 757.1,595.8 776.2,587.9 795.4,580.0 814.6,572.1 833.7,564.3 852.9,556.4 872.0,548.6 891.2,540.8 910.4,533.0 929.5,525.2 948.7,517.5 967.8,509.7 987.0,502.0 1006.2,494.3 1025.3,486.6 1044.5,478.9 1063.6,471.2 1082.8,463.6 1102.0,455.9 1121.1,448.3 1140.3,440.7 1159.4,433.1 1178.6,425.6 1197.8,418.0 1216.9,410.4 1236.1,402.9 1255.2,395.4 1274.4,387.9 1293.6,380.4 1312.7,373.0 1331.9,365.5" fill="none" stroke="#e0507a" stroke-width="3.2" stroke-linejoin="round" stroke-opacity="0.15"/>
<polyline points="734.5,599.5 757.1,595.8 776.2,588.1 795.4,580.4 814.6,572.8 833.7,565.2 852.9,557.5 872.0,549.9 891.2,542.4 910.4,534.8 929.5,527.2 948.7,519.7 967.8,512.2 987.0,504.7 1006.2,497.2 1025.3,489.7 1044.5,482.2 1063.6,474.8 1082.8,467.3 1102.0,459.9 1121.1,452.5 1140.3,445.1 1159.4,437.8 1178.6,430.4 1197.8,423.0 1216.9,415.7 1236.1,408.4 1255.2,401.1 1274.4,393.8 1293.6,386.5 1312.7,379.3 1331.9,372.1" fill="none" stroke="#e0507a" stroke-width="3.2" stroke-linejoin="round" stroke-opacity="0.15"/>
<polyline points="734.5,599.5 757.1,595.8 776.2,589.1 795.4,582.5 814.6,576.0 833.7,569.4 852.9,562.8 872.0,556.3 891.2,549.7 910.4,543.2 929.5,536.7 948.7,530.2 967.8,523.7 987.0,517.2 1006.2,510.8 1025.3,504.3 1044.5,497.9 1063.6,491.5 1082.8,485.1 1102.0,478.7 1121.1,472.3 1140.3,465.9 1159.4,459.6 1178.6,453.2 1197.8,446.9 1216.9,440.6 1236.1,434.3 1255.2,428.0 1274.4,421.7 1293.6,415.4 1312.7,409.2 1331.9,402.9" fill="none" stroke="#e0507a" stroke-width="3.2" stroke-linejoin="round" stroke-opacity="0.15"/>
<polyline points="734.5,605.0 758.3,325.5 772.7,313.3 787.0,304.3 801.4,297.3 815.7,291.6 830.0,286.7 844.4,282.2 858.7,278.1 873.1,274.1 887.4,270.2 901.7,266.4 916.1,262.6 930.4,258.8 944.7,255.0 959.1,251.2 973.4,247.4 987.8,243.7 1002.1,239.9 1016.4,236.1 1030.8,232.3 1045.1,228.4 1059.5,224.6 1073.8,220.8 1088.1,217.0 1102.5,213.1 1116.8,209.3 1131.1,205.4 1145.5,201.6 1159.8,197.7 1174.2,193.8 1188.5,189.9 1202.8,186.1 1217.2,182.2 1231.5,178.3 1245.8,174.4 1260.2,170.5 1274.5,166.6 1288.9,162.7 1303.2,158.8 1317.5,154.9 1331.9,150.9" fill="none" stroke="#626262" stroke-width="1.4" stroke-linejoin="round" />
<polyline points="734.5,605.0 758.3,330.7 772.7,318.3 787.0,309.2 801.4,302.2 815.7,296.4 830.0,291.4 844.4,286.8 858.7,282.6 873.1,278.5 887.4,274.6 901.7,270.7 916.1,266.8 930.4,263.0 944.7,259.2 959.1,255.4 973.4,251.5 987.8,247.7 1002.1,243.9 1016.4,240.0 1030.8,236.2 1045.1,232.4 1059.5,228.5 1073.8,224.7 1088.1,220.8 1102.5,216.9 1116.8,213.1 1131.1,209.2 1145.5,205.3 1159.8,201.4 1174.2,197.6 1188.5,193.7 1202.8,189.8 1217.2,185.9 1231.5,182.0 1245.8,178.1 1260.2,174.2 1274.5,170.3 1288.9,166.4 1303.2,162.4 1317.5,158.5 1331.9,154.6" fill="none" stroke="#4f7f73" stroke-width="1.4" stroke-linejoin="round" />
<polyline points="734.5,605.0 758.3,333.3 772.7,320.9 787.0,311.7 801.4,304.6 815.7,298.7 830.0,293.7 844.4,289.1 858.7,284.9 873.1,280.8 887.4,276.9 901.7,273.0 916.1,269.1 930.4,265.3 944.7,261.5 959.1,257.7 973.4,253.8 987.8,250.0 1002.1,246.2 1016.4,242.4 1030.8,238.6 1045.1,234.8 1059.5,230.9 1073.8,227.1 1088.1,223.3 1102.5,219.4 1116.8,215.6 1131.1,211.8 1145.5,207.9 1159.8,204.1 1174.2,200.2 1188.5,196.4 1202.8,192.5 1217.2,188.7 1231.5,184.8 1245.8,180.9 1260.2,177.1 1274.5,173.2 1288.9,169.4 1303.2,165.5 1317.5,161.6 1331.9,157.7" fill="none" stroke="#626262" stroke-width="1.4" stroke-linejoin="round" />
<polyline points="734.5,605.0 758.3,335.9 772.7,323.3 787.0,314.1 801.4,306.9 815.7,301.1 830.0,296.1 844.4,291.5 858.7,287.3 873.1,283.3 887.4,279.3 901.7,275.5 916.1,271.7 930.4,267.9 944.7,264.2 959.1,260.4 973.4,256.7 987.8,253.0 1002.1,249.3 1016.4,245.5 1030.8,241.8 1045.1,238.1 1059.5,234.3 1073.8,230.6 1088.1,226.9 1102.5,223.2 1116.8,219.4 1131.1,215.7 1145.5,212.0 1159.8,208.3 1174.2,204.5 1188.5,200.8 1202.8,197.1 1217.2,193.3 1231.5,189.6 1245.8,185.9 1260.2,182.1 1274.5,178.4 1288.9,174.7 1303.2,171.0 1317.5,167.2 1331.9,163.5" fill="none" stroke="#5c6296" stroke-width="1.4" stroke-linejoin="round" />
<polyline points="734.5,605.0 758.3,338.5 772.7,325.8 787.0,316.5 801.4,309.3 815.7,303.5 830.0,298.4 844.4,293.9 858.7,289.7 873.1,285.7 887.4,281.8 901.7,278.1 916.1,274.3 930.4,270.6 944.7,266.9 959.1,263.3 973.4,259.6 987.8,256.0 1002.1,252.3 1016.4,248.7 1030.8,245.0 1045.1,241.4 1059.5,237.8 1073.8,234.2 1088.1,230.5 1102.5,226.9 1116.8,223.3 1131.1,219.7 1145.5,216.1 1159.8,212.5 1174.2,208.8 1188.5,205.2 1202.8,201.6 1217.2,198.0 1231.5,194.4 1245.8,190.8 1260.2,187.2 1274.5,183.6 1288.9,180.0 1303.2,176.4 1317.5,172.8 1331.9,169.2" fill="none" stroke="#626262" stroke-width="1.4" stroke-linejoin="round" />
<polyline points="734.5,605.0 758.3,338.5 772.7,325.7 787.0,316.4 801.4,309.3 815.7,303.5 830.0,298.5 844.4,294.1 858.7,290.0 873.1,286.1 887.4,282.4 901.7,278.7 916.1,275.1 930.4,271.5 944.7,268.0 959.1,264.4 973.4,260.9 987.8,257.4 1002.1,253.9 1016.4,250.4 1030.8,247.0 1045.1,243.5 1059.5,240.0 1073.8,236.6 1088.1,233.1 1102.5,229.7 1116.8,226.2 1131.1,222.8 1145.5,219.4 1159.8,215.9 1174.2,212.5 1188.5,209.1 1202.8,205.6 1217.2,202.2 1231.5,198.8 1245.8,195.4 1260.2,192.0 1274.5,188.6 1288.9,185.2 1303.2,181.8 1317.5,178.4 1331.9,175.0" fill="none" stroke="#626262" stroke-width="1.4" stroke-linejoin="round" />
<polyline points="734.5,605.0 758.3,341.1 772.7,328.2 787.0,318.8 801.4,311.7 815.7,305.9 830.0,300.9 844.4,296.5 858.7,292.5 873.1,288.7 887.4,285.0 901.7,281.4 916.1,277.8 930.4,274.3 944.7,270.9 959.1,267.4 973.4,264.0 987.8,260.6 1002.1,257.2 1016.4,253.8 1030.8,250.5 1045.1,247.1 1059.5,243.8 1073.8,240.4 1088.1,237.1 1102.5,233.7 1116.8,230.4 1131.1,227.1 1145.5,223.8 1159.8,220.5 1174.2,217.2 1188.5,213.9 1202.8,210.6 1217.2,207.3 1231.5,204.1 1245.8,200.8 1260.2,197.5 1274.5,194.3 1288.9,191.0 1303.2,187.7 1317.5,184.5 1331.9,181.3" fill="none" stroke="#4f7f73" stroke-width="1.4" stroke-linejoin="round" />
<polyline points="734.5,605.0 758.3,343.8 772.7,330.6 787.0,321.2 801.4,314.0 815.7,308.3 830.0,303.3 844.4,299.0 858.7,295.0 873.1,291.2 887.4,287.5 901.7,284.0 916.1,280.5 930.4,277.1 944.7,273.7 959.1,270.3 973.4,267.0 987.8,263.7 1002.1,260.4 1016.4,257.1 1030.8,253.8 1045.1,250.6 1059.5,247.3 1073.8,244.1 1088.1,240.8 1102.5,237.6 1116.8,234.4 1131.1,231.2 1145.5,228.0 1159.8,224.8 1174.2,221.6 1188.5,218.4 1202.8,215.3 1217.2,212.1 1231.5,208.9 1245.8,205.8 1260.2,202.6 1274.5,199.5 1288.9,196.4 1303.2,193.2 1317.5,190.1 1331.9,187.0" fill="none" stroke="#626262" stroke-width="1.4" stroke-linejoin="round" />
<polyline points="734.5,605.0 758.3,343.8 772.7,330.5 787.0,321.2 801.4,314.1 815.7,308.4 830.0,303.5 844.4,299.3 858.7,295.4 873.1,291.7 887.4,288.2 901.7,284.8 916.1,281.4 930.4,278.1 944.7,274.9 959.1,271.7 973.4,268.5 987.8,265.3 1002.1,262.1 1016.4,259.0 1030.8,255.9 1045.1,252.8 1059.5,249.7 1073.8,246.6 1088.1,243.5 1102.5,240.5 1116.8,237.4 1131.1,234.4 1145.5,231.4 1159.8,228.4 1174.2,225.4 1188.5,222.4 1202.8,219.4 1217.2,216.4 1231.5,213.4 1245.8,210.4 1260.2,207.5 1274.5,204.5 1288.9,201.6 1303.2,198.6 1317.5,195.7 1331.9,192.7" fill="none" stroke="#5c6296" stroke-width="1.4" stroke-linejoin="round" />
<polyline points="734.5,605.0 758.3,346.4 772.7,333.0 787.0,323.6 801.4,316.5 815.7,310.8 830.0,306.1 844.4,301.9 858.7,298.1 873.1,294.5 887.4,291.1 901.7,287.8 916.1,284.6 930.4,281.5 944.7,278.4 959.1,275.3 973.4,272.2 987.8,269.2 1002.1,266.2 1016.4,263.3 1030.8,260.3 1045.1,257.4 1059.5,254.4 1073.8,251.5 1088.1,248.6 1102.5,245.8 1116.8,242.9 1131.1,240.0 1145.5,237.2 1159.8,234.4 1174.2,231.5 1188.5,228.7 1202.8,225.9 1217.2,223.1 1231.5,220.4 1245.8,217.6 1260.2,214.8 1274.5,212.1 1288.9,209.3 1303.2,206.6 1317.5,203.8 1331.9,201.1" fill="none" stroke="#626262" stroke-width="1.4" stroke-linejoin="round" />
<polyline points="734.5,605.0 758.3,349.0 772.7,335.4 787.0,326.0 801.4,318.9 815.7,313.4 830.0,308.7 844.4,304.6 858.7,300.9 873.1,297.5 887.4,294.2 901.7,291.0 916.1,288.0 930.4,285.0 944.7,282.0 959.1,279.1 973.4,276.2 987.8,273.4 1002.1,270.6 1016.4,267.8 1030.8,265.0 1045.1,262.2 1059.5,259.5 1073.8,256.8 1088.1,254.1 1102.5,251.4 1116.8,248.7 1131.1,246.0 1145.5,243.4 1159.8,240.8 1174.2,238.1 1188.5,235.5 1202.8,232.9 1217.2,230.3 1231.5,227.8 1245.8,225.2 1260.2,222.6 1274.5,220.1 1288.9,217.6 1303.2,215.0 1317.5,212.5 1331.9,210.0" fill="none" stroke="#626262" stroke-width="1.4" stroke-linejoin="round" />
<polyline points="734.5,605.0 758.3,343.8 772.7,330.3 787.0,321.4 801.4,315.0 815.7,310.0 830.0,306.0 844.4,302.6 858.7,299.6 873.1,296.8 887.4,294.2 901.7,291.8 916.1,289.4 930.4,287.1 944.7,284.9 959.1,282.7 973.4,280.6 987.8,278.4 1002.1,276.4 1016.4,274.3 1030.8,272.2 1045.1,270.2 1059.5,268.2 1073.8,266.2 1088.1,264.3 1102.5,262.3 1116.8,260.4 1131.1,258.5 1145.5,256.6 1159.8,254.7 1174.2,252.8 1188.5,251.0 1202.8,249.1 1217.2,247.3 1231.5,245.5 1245.8,243.7 1260.2,241.9 1274.5,240.1 1288.9,238.3 1303.2,236.5 1317.5,234.7 1331.9,233.0" fill="none" stroke="#4f7f73" stroke-width="1.4" stroke-linejoin="round" />
<polyline points="734.5,605.0 758.3,351.6 772.7,337.8 787.0,328.8 801.4,322.2 815.7,317.2 830.0,313.1 844.4,309.7 858.7,306.7 873.1,303.9 887.4,301.4 901.7,298.9 916.1,296.6 930.4,294.3 944.7,292.1 959.1,290.0 973.4,287.9 987.8,285.8 1002.1,283.8 1016.4,281.7 1030.8,279.7 1045.1,277.8 1059.5,275.8 1073.8,273.9 1088.1,272.0 1102.5,270.1 1116.8,268.3 1131.1,266.4 1145.5,264.6 1159.8,262.7 1174.2,260.9 1188.5,259.1 1202.8,257.4 1217.2,255.6 1231.5,253.8 1245.8,252.1 1260.2,250.4 1274.5,248.6 1288.9,246.9 1303.2,245.2 1317.5,243.5 1331.9,241.9" fill="none" stroke="#626262" stroke-width="1.4" stroke-linejoin="round" />
<polyline points="734.5,605.0 758.3,354.2 772.7,340.3 787.0,331.2 801.4,324.6 815.7,319.5 830.0,315.5 844.4,312.0 858.7,309.0 873.1,306.2 887.4,303.7 901.7,301.2 916.1,298.9 930.4,296.6 944.7,294.5 959.1,292.3 973.4,290.2 987.8,288.1 1002.1,286.1 1016.4,284.1 1030.8,282.1 1045.1,280.1 1059.5,278.2 1073.8,276.3 1088.1,274.4 1102.5,272.5 1116.8,270.7 1131.1,268.8 1145.5,267.0 1159.8,265.2 1174.2,263.4 1188.5,261.6 1202.8,259.8 1217.2,258.1 1231.5,256.3 1245.8,254.6 1260.2,252.9 1274.5,251.2 1288.9,249.5 1303.2,247.8 1317.5,246.1 1331.9,244.5" fill="none" stroke="#5c6296" stroke-width="1.4" stroke-linejoin="round" />
<polyline points="734.5,605.0 758.3,356.8 772.7,342.8 787.0,333.8 801.4,327.4 815.7,322.5 830.0,318.7 844.4,315.4 858.7,312.6 873.1,310.0 887.4,307.6 901.7,305.4 916.1,303.3 930.4,301.2 944.7,299.2 959.1,297.3 973.4,295.4 987.8,293.5 1002.1,291.7 1016.4,289.9 1030.8,288.1 1045.1,286.4 1059.5,284.6 1073.8,282.9 1088.1,281.3 1102.5,279.6 1116.8,277.9 1131.1,276.3 1145.5,274.7 1159.8,273.1 1174.2,271.5 1188.5,270.0 1202.8,268.4 1217.2,266.9 1231.5,265.3 1245.8,263.8 1260.2,262.3 1274.5,260.8 1288.9,259.3 1303.2,257.8 1317.5,256.4 1331.9,254.9" fill="none" stroke="#626262" stroke-width="1.4" stroke-linejoin="round" />
<polyline points="734.5,605.0 758.3,362.0 772.7,347.8 787.0,338.8 801.4,332.5 815.7,327.7 830.0,323.9 844.4,320.7 858.7,318.0 873.1,315.5 887.4,313.2 901.7,311.1 916.1,309.1 930.4,307.2 944.7,305.3 959.1,303.5 973.4,301.7 987.8,299.9 1002.1,298.2 1016.4,296.5 1030.8,294.9 1045.1,293.3 1059.5,291.7 1073.8,290.1 1088.1,288.5 1102.5,287.0 1116.8,285.5 1131.1,284.0 1145.5,282.5 1159.8,281.0 1174.2,279.5 1188.5,278.1 1202.8,276.7 1217.2,275.2 1231.5,273.8 1245.8,272.4 1260.2,271.1 1274.5,269.7 1288.9,268.3 1303.2,267.0 1317.5,265.7 1331.9,264.3" fill="none" stroke="#626262" stroke-width="1.4" stroke-linejoin="round" />
<polyline points="734.5,605.0 758.3,495.3 772.7,482.1 787.0,475.6 801.4,471.5 815.7,468.7 830.0,466.5 844.4,464.8 858.7,463.2 873.1,461.7 887.4,460.4 901.7,459.1 916.1,457.9 930.4,456.8 944.7,455.6 959.1,454.6 973.4,453.5 987.8,452.5 1002.1,451.5 1016.4,450.5 1030.8,449.5 1045.1,448.6 1059.5,447.7 1073.8,446.7 1088.1,445.9 1102.5,445.0 1116.8,444.1 1131.1,443.3 1145.5,442.5 1159.8,441.6 1174.2,440.8 1188.5,440.0 1202.8,439.2 1217.2,438.5 1231.5,437.7 1245.8,436.9 1260.2,436.2 1274.5,435.5 1288.9,434.7 1303.2,434.0 1317.5,433.3 1331.9,432.6" fill="none" stroke="#a0566f" stroke-width="1.4" stroke-linejoin="round" />
<polyline points="734.5,605.0 758.3,497.9 772.7,485.6 787.0,479.5 801.4,475.8 815.7,473.3 830.0,471.4 844.4,469.9 858.7,468.5 873.1,467.3 887.4,466.2 901.7,465.2 916.1,464.2 930.4,463.2 944.7,462.2 959.1,461.3 973.4,460.5 987.8,459.6 1002.1,458.8 1016.4,457.9 1030.8,457.1 1045.1,456.4 1059.5,455.6 1073.8,454.8 1088.1,454.1 1102.5,453.4 1116.8,452.7 1131.1,452.0 1145.5,451.3 1159.8,450.6 1174.2,449.9 1188.5,449.2 1202.8,448.6 1217.2,447.9 1231.5,447.3 1245.8,446.7 1260.2,446.0 1274.5,445.4 1288.9,444.8 1303.2,444.2 1317.5,443.6 1331.9,443.0" fill="none" stroke="#626262" stroke-width="1.4" stroke-linejoin="round" />
<polyline points="734.5,605.0 758.3,500.5 772.7,488.2 787.0,482.1 801.4,478.4 815.7,475.9 830.0,474.0 844.4,472.5 858.7,471.2 873.1,470.0 887.4,468.8 901.7,467.8 916.1,466.8 930.4,465.8 944.7,464.9 959.1,464.0 973.4,463.1 987.8,462.2 1002.1,461.4 1016.4,460.6 1030.8,459.8 1045.1,459.0 1059.5,458.2 1073.8,457.4 1088.1,456.7 1102.5,456.0 1116.8,455.3 1131.1,454.6 1145.5,453.9 1159.8,453.2 1174.2,452.5 1188.5,451.9 1202.8,451.2 1217.2,450.5 1231.5,449.9 1245.8,449.3 1260.2,448.7 1274.5,448.0 1288.9,447.4 1303.2,446.8 1317.5,446.2 1331.9,445.6" fill="none" stroke="#626262" stroke-width="1.4" stroke-linejoin="round" />
<polyline points="734.5,605.0 758.3,500.5 772.7,488.5 787.0,482.5 801.4,478.9 815.7,476.5 830.0,474.8 844.4,473.3 858.7,472.1 873.1,471.0 887.4,469.9 901.7,468.9 916.1,468.0 930.4,467.1 944.7,466.2 959.1,465.3 973.4,464.5 987.8,463.7 1002.1,462.9 1016.4,462.2 1030.8,461.4 1045.1,460.7 1059.5,460.0 1073.8,459.3 1088.1,458.6 1102.5,457.9 1116.8,457.2 1131.1,456.6 1145.5,455.9 1159.8,455.3 1174.2,454.7 1188.5,454.0 1202.8,453.4 1217.2,452.8 1231.5,452.2 1245.8,451.6 1260.2,451.1 1274.5,450.5 1288.9,449.9 1303.2,449.4 1317.5,448.8 1331.9,448.3" fill="none" stroke="#a0566f" stroke-width="1.4" stroke-linejoin="round" />
<polyline points="734.5,605.0 758.3,501.5 772.7,489.7 787.0,483.8 801.4,480.3 815.7,478.0 830.0,476.3 844.4,474.9 858.7,473.7 873.1,472.6 887.4,471.6 901.7,470.6 916.1,469.7 930.4,468.9 944.7,468.0 959.1,467.2 973.4,466.4 987.8,465.7 1002.1,464.9 1016.4,464.2 1030.8,463.5 1045.1,462.8 1059.5,462.1 1073.8,461.4 1088.1,460.8 1102.5,460.1 1116.8,459.5 1131.1,458.8 1145.5,458.2 1159.8,457.6 1174.2,457.0 1188.5,456.4 1202.8,455.8 1217.2,455.2 1231.5,454.7 1245.8,454.1 1260.2,453.6 1274.5,453.0 1288.9,452.5 1303.2,451.9 1317.5,451.4 1331.9,450.9" fill="none" stroke="#626262" stroke-width="1.4" stroke-linejoin="round" />
<polyline points="734.5,605.0 758.3,503.1 772.7,491.4 787.0,485.6 801.4,482.1 815.7,479.8 830.0,478.1 844.4,476.8 858.7,475.6 873.1,474.6 887.4,473.6 901.7,472.7 916.1,471.8 930.4,470.9 944.7,470.1 959.1,469.3 973.4,468.6 987.8,467.8 1002.1,467.1 1016.4,466.4 1030.8,465.7 1045.1,465.0 1059.5,464.4 1073.8,463.7 1088.1,463.1 1102.5,462.4 1116.8,461.8 1131.1,461.2 1145.5,460.6 1159.8,460.0 1174.2,459.4 1188.5,458.9 1202.8,458.3 1217.2,457.7 1231.5,457.2 1245.8,456.6 1260.2,456.1 1274.5,455.6 1288.9,455.0 1303.2,454.5 1317.5,454.0 1331.9,453.5" fill="none" stroke="#626262" stroke-width="1.4" stroke-linejoin="round" />
<polyline points="734.5,605.0 758.3,503.1 772.7,491.7 787.0,486.0 801.4,482.7 815.7,480.5 830.0,478.9 844.4,477.6 858.7,476.5 873.1,475.6 887.4,474.7 901.7,473.8 916.1,473.0 930.4,472.2 944.7,471.5 959.1,470.7 973.4,470.0 987.8,469.3 1002.1,468.7 1016.4,468.0 1030.8,467.4 1045.1,466.8 1059.5,466.1 1073.8,465.5 1088.1,464.9 1102.5,464.4 1116.8,463.8 1131.1,463.2 1145.5,462.7 1159.8,462.1 1174.2,461.6 1188.5,461.1 1202.8,460.5 1217.2,460.0 1231.5,459.5 1245.8,459.0 1260.2,458.5 1274.5,458.0 1288.9,457.5 1303.2,457.0 1317.5,456.6 1331.9,456.1" fill="none" stroke="#a0566f" stroke-width="1.4" stroke-linejoin="round" />
<polyline points="734.5,599.5 757.1,593.9 776.2,580.2 795.4,566.3 814.6,552.4 833.7,538.3 852.9,524.1 872.0,509.8 891.2,495.3 910.4,480.7 929.5,466.0 948.7,451.2 967.8,436.3 987.0,421.2 1006.2,406.0 1025.3,390.7 1044.5,375.2 1063.6,359.7 1082.8,344.0 1102.0,328.2 1121.1,312.2 1140.3,296.2 1159.4,280.0 1178.6,263.7 1197.8,247.2 1216.9,230.7 1236.1,214.0 1255.2,197.2 1274.4,180.2 1293.6,163.2 1312.7,146.0 1331.9,128.7" fill="none" stroke="#626262" stroke-width="1.4" stroke-linejoin="round" />
<polyline points="734.5,599.5 757.1,593.9 776.2,576.9 795.4,560.1 814.6,543.4 833.7,526.9 852.9,510.5 872.0,494.3 891.2,478.2 910.4,462.3 929.5,446.5 948.7,430.9 967.8,415.4 987.0,400.0 1006.2,384.8 1025.3,369.8 1044.5,354.9 1063.6,340.2 1082.8,325.6 1102.0,311.1 1121.1,296.8 1140.3,282.7 1159.4,268.7 1178.6,254.8 1197.8,241.1 1216.9,227.5 1236.1,214.1 1255.2,200.9 1274.4,187.7 1293.6,174.8 1312.7,162.0 1331.9,149.3" fill="none" stroke="#626262" stroke-width="1.4" stroke-linejoin="round" />
<polyline points="734.5,599.5 757.1,593.9 776.2,577.0 795.4,560.3 814.6,543.7 833.7,527.3 852.9,511.0 872.0,494.9 891.2,478.9 910.4,463.1 929.5,447.4 948.7,431.9 967.8,416.5 987.0,401.3 1006.2,386.2 1025.3,371.2 1044.5,356.4 1063.6,341.8 1082.8,327.3 1102.0,312.9 1121.1,298.7 1140.3,284.6 1159.4,270.7 1178.6,256.9 1197.8,243.3 1216.9,229.8 1236.1,216.5 1255.2,203.3 1274.4,190.3 1293.6,177.4 1312.7,164.7 1331.9,152.1" fill="none" stroke="#4f7f73" stroke-width="1.4" stroke-linejoin="round" />
<polyline points="734.5,599.5 757.1,593.9 776.2,577.1 795.4,560.5 814.6,544.1 833.7,527.7 852.9,511.6 872.0,495.6 891.2,479.7 910.4,463.9 929.5,448.4 948.7,432.9 967.8,417.6 987.0,402.5 1006.2,387.5 1025.3,372.6 1044.5,357.9 1063.6,343.4 1082.8,329.0 1102.0,314.7 1121.1,300.6 1140.3,286.6 1159.4,272.8 1178.6,259.1 1197.8,245.6 1216.9,232.2 1236.1,218.9 1255.2,205.8 1274.4,192.9 1293.6,180.1 1312.7,167.4 1331.9,154.9" fill="none" stroke="#626262" stroke-width="1.4" stroke-linejoin="round" />
<polyline points="734.5,599.5 757.1,593.9 776.2,577.2 795.4,560.7 814.6,544.4 833.7,528.2 852.9,512.1 872.0,496.2 891.2,480.4 910.4,464.8 929.5,449.3 948.7,434.0 967.8,418.8 987.0,403.7 1006.2,388.8 1025.3,374.1 1044.5,359.4 1063.6,345.0 1082.8,330.7 1102.0,316.5 1121.1,302.4 1140.3,288.6 1159.4,274.8 1178.6,261.2 1197.8,247.8 1216.9,234.5 1236.1,221.3 1255.2,208.3 1274.4,195.4 1293.6,182.7 1312.7,170.1 1331.9,157.7" fill="none" stroke="#626262" stroke-width="1.4" stroke-linejoin="round" />
<polyline points="734.5,599.5 757.1,593.9 776.2,577.3 795.4,560.9 814.6,544.7 833.7,528.6 852.9,512.6 872.0,496.8 891.2,481.1 910.4,465.6 929.5,450.2 948.7,435.0 967.8,419.9 987.0,404.9 1006.2,390.1 1025.3,375.5 1044.5,360.9 1063.6,346.6 1082.8,332.3 1102.0,318.3 1121.1,304.3 1140.3,290.5 1159.4,276.9 1178.6,263.4 1197.8,250.0 1216.9,236.8 1236.1,223.7 1255.2,210.8 1274.4,198.0 1293.6,185.4 1312.7,172.9 1331.9,160.5" fill="none" stroke="#626262" stroke-width="1.4" stroke-linejoin="round" />
<polyline points="734.5,599.5 757.1,593.9 776.2,577.5 795.4,561.2 814.6,545.0 833.7,529.0 852.9,513.2 872.0,497.4 891.2,481.9 910.4,466.4 929.5,451.2 948.7,436.0 967.8,421.0 987.0,406.2 1006.2,391.4 1025.3,376.9 1044.5,362.5 1063.6,348.2 1082.8,334.0 1102.0,320.0 1121.1,306.2 1140.3,292.5 1159.4,278.9 1178.6,265.5 1197.8,252.2 1216.9,239.1 1236.1,226.1 1255.2,213.3 1274.4,200.6 1293.6,188.0 1312.7,175.6 1331.9,163.3" fill="none" stroke="#4f7f73" stroke-width="1.4" stroke-linejoin="round" />
<polyline points="734.5,599.5 757.1,593.9 776.2,577.6 795.4,561.4 814.6,545.3 833.7,529.4 852.9,513.7 872.0,498.1 891.2,482.6 910.4,467.3 929.5,452.1 948.7,437.0 967.8,422.1 987.0,407.4 1006.2,392.8 1025.3,378.3 1044.5,364.0 1063.6,349.8 1082.8,335.7 1102.0,321.8 1121.1,308.1 1140.3,294.5 1159.4,281.0 1178.6,267.7 1197.8,254.5 1216.9,241.4 1236.1,228.5 1255.2,215.8 1274.4,203.1 1293.6,190.7 1312.7,178.3 1331.9,166.1" fill="none" stroke="#626262" stroke-width="1.4" stroke-linejoin="round" />
<polyline points="734.5,599.5 757.1,593.9 776.2,577.7 795.4,561.6 814.6,545.7 833.7,529.9 852.9,514.2 872.0,498.7 891.2,483.3 910.4,468.1 929.5,453.0 948.7,438.1 967.8,423.3 987.0,408.6 1006.2,394.1 1025.3,379.7 1044.5,365.5 1063.6,351.4 1082.8,337.4 1102.0,323.6 1121.1,310.0 1140.3,296.4 1159.4,283.0 1178.6,269.8 1197.8,256.7 1216.9,243.7 1236.1,230.9 1255.2,218.2 1274.4,205.7 1293.6,193.3 1312.7,181.1 1331.9,168.9" fill="none" stroke="#626262" stroke-width="1.4" stroke-linejoin="round" />
<polyline points="734.5,599.5 757.1,593.9 776.2,577.8 795.4,561.9 814.6,546.2 833.7,530.6 852.9,515.1 872.0,499.7 891.2,484.5 910.4,469.5 929.5,454.6 948.7,439.8 967.8,425.1 987.0,410.6 1006.2,396.3 1025.3,382.1 1044.5,368.0 1063.6,354.1 1082.8,340.3 1102.0,326.6 1121.1,313.1 1140.3,299.7 1159.4,286.5 1178.6,273.4 1197.8,260.4 1216.9,247.6 1236.1,234.9 1255.2,222.4 1274.4,210.0 1293.6,197.7 1312.7,185.6 1331.9,173.6" fill="none" stroke="#626262" stroke-width="1.4" stroke-linejoin="round" />
<polyline points="734.5,599.5 757.1,593.9 776.2,578.4 795.4,563.0 814.6,547.8 833.7,532.7 852.9,517.7 872.0,502.9 891.2,488.2 910.4,473.6 929.5,459.2 948.7,444.9 967.8,430.8 987.0,416.8 1006.2,402.9 1025.3,389.1 1044.5,375.5 1063.6,362.1 1082.8,348.7 1102.0,335.5 1121.1,322.5 1140.3,309.5 1159.4,296.7 1178.6,284.1 1197.8,271.5 1216.9,259.2 1236.1,246.9 1255.2,234.8 1274.4,222.8 1293.6,211.0 1312.7,199.2 1331.9,187.7" fill="none" stroke="#4f7f73" stroke-width="1.4" stroke-linejoin="round" />
<polyline points="734.5,599.5 757.1,593.9 776.2,579.2 795.4,564.7 814.6,550.3 833.7,536.1 852.9,521.9 872.0,507.9 891.2,494.0 910.4,480.3 929.5,466.7 948.7,453.2 967.8,439.8 987.0,426.6 1006.2,413.5 1025.3,400.5 1044.5,387.6 1063.6,374.9 1082.8,362.3 1102.0,349.8 1121.1,337.5 1140.3,325.3 1159.4,313.2 1178.6,301.2 1197.8,289.4 1216.9,277.7 1236.1,266.1 1255.2,254.6 1274.4,243.3 1293.6,232.1 1312.7,221.1 1331.9,210.1" fill="none" stroke="#626262" stroke-width="1.4" stroke-linejoin="round" />
<polyline points="734.5,599.5 757.1,593.9 776.2,580.2 795.4,566.6 814.6,553.1 833.7,539.7 852.9,526.5 872.0,513.4 891.2,500.4 910.4,487.5 929.5,474.7 948.7,462.1 967.8,449.6 987.0,437.2 1006.2,424.9 1025.3,412.7 1044.5,400.7 1063.6,388.8 1082.8,377.0 1102.0,365.3 1121.1,353.7 1140.3,342.3 1159.4,331.0 1178.6,319.8 1197.8,308.7 1216.9,297.7 1236.1,286.9 1255.2,276.2 1274.4,265.6 1293.6,255.1 1312.7,244.7 1331.9,234.5" fill="none" stroke="#626262" stroke-width="1.4" stroke-linejoin="round" />
<polyline points="734.5,599.5 757.1,593.9 776.2,581.0 795.4,568.1 814.6,555.4 833.7,542.8 852.9,530.4 872.0,518.0 891.2,505.7 910.4,493.6 929.5,481.6 948.7,469.6 967.8,457.8 987.0,446.2 1006.2,434.6 1025.3,423.1 1044.5,411.8 1063.6,400.5 1082.8,389.4 1102.0,378.4 1121.1,367.5 1140.3,356.7 1159.4,346.0 1178.6,335.5 1197.8,325.0 1216.9,314.7 1236.1,304.5 1255.2,294.4 1274.4,284.4 1293.6,274.5 1312.7,264.7 1331.9,255.1" fill="none" stroke="#626262" stroke-width="1.4" stroke-linejoin="round" />
<polyline points="734.5,599.5 757.1,593.9 776.2,581.7 795.4,569.6 814.6,557.6 833.7,545.7 852.9,533.9 872.0,522.2 891.2,510.6 910.4,499.1 929.5,487.8 948.7,476.5 967.8,465.4 987.0,454.3 1006.2,443.4 1025.3,432.5 1044.5,421.8 1063.6,411.2 1082.8,400.7 1102.0,390.3 1121.1,380.0 1140.3,369.8 1159.4,359.7 1178.6,349.7 1197.8,339.9 1216.9,330.1 1236.1,320.5 1255.2,310.9 1274.4,301.5 1293.6,292.1 1312.7,282.9 1331.9,273.8" fill="none" stroke="#4f7f73" stroke-width="1.4" stroke-linejoin="round" />
<polyline points="734.5,599.5 757.1,595.8 776.2,587.3 795.4,578.8 814.6,570.4 833.7,562.0 852.9,553.5 872.0,545.1 891.2,536.8 910.4,528.4 929.5,520.1 948.7,511.7 967.8,503.4 987.0,495.1 1006.2,486.9 1025.3,478.6 1044.5,470.4 1063.6,462.1 1082.8,453.9 1102.0,445.7 1121.1,437.5 1140.3,429.4 1159.4,421.2 1178.6,413.1 1197.8,405.0 1216.9,396.9 1236.1,388.8 1255.2,380.7 1274.4,372.7 1293.6,364.7 1312.7,356.6 1331.9,348.7" fill="none" stroke="#626262" stroke-width="1.4" stroke-linejoin="round" />
<polyline points="734.5,599.5 757.1,595.8 776.2,587.6 795.4,579.5 814.6,571.3 833.7,563.2 852.9,555.1 872.0,547.1 891.2,539.0 910.4,531.0 929.5,522.9 948.7,514.9 967.8,506.9 987.0,498.9 1006.2,491.0 1025.3,483.0 1044.5,475.1 1063.6,467.2 1082.8,459.3 1102.0,451.4 1121.1,443.5 1140.3,435.7 1159.4,427.8 1178.6,420.0 1197.8,412.2 1216.9,404.4 1236.1,396.6 1255.2,388.9 1274.4,381.1 1293.6,373.4 1312.7,365.7 1331.9,358.0" fill="none" stroke="#626262" stroke-width="1.4" stroke-linejoin="round" />
<polyline points="734.5,599.5 757.1,595.8 776.2,587.9 795.4,580.0 814.6,572.1 833.7,564.3 852.9,556.4 872.0,548.6 891.2,540.8 910.4,533.0 929.5,525.2 948.7,517.5 967.8,509.7 987.0,502.0 1006.2,494.3 1025.3,486.6 1044.5,478.9 1063.6,471.2 1082.8,463.6 1102.0,455.9 1121.1,448.3 1140.3,440.7 1159.4,433.1 1178.6,425.6 1197.8,418.0 1216.9,410.4 1236.1,402.9 1255.2,395.4 1274.4,387.9 1293.6,380.4 1312.7,373.0 1331.9,365.5" fill="none" stroke="#a0566f" stroke-width="1.4" stroke-linejoin="round" />
<polyline points="734.5,599.5 757.1,595.8 776.2,588.0 795.4,580.2 814.6,572.5 833.7,564.8 852.9,557.1 872.0,549.4 891.2,541.7 910.4,534.0 929.5,526.4 948.7,518.7 967.8,511.1 987.0,503.5 1006.2,495.9 1025.3,488.4 1044.5,480.8 1063.6,473.3 1082.8,465.7 1102.0,458.2 1121.1,450.7 1140.3,443.2 1159.4,435.8 1178.6,428.3 1197.8,420.9 1216.9,413.5 1236.1,406.1 1255.2,398.7 1274.4,391.3 1293.6,383.9 1312.7,376.6 1331.9,369.2" fill="none" stroke="#626262" stroke-width="1.4" stroke-linejoin="round" />
<polyline points="734.5,599.5 757.1,595.8 776.2,588.1 795.4,580.4 814.6,572.8 833.7,565.2 852.9,557.5 872.0,549.9 891.2,542.4 910.4,534.8 929.5,527.2 948.7,519.7 967.8,512.2 987.0,504.7 1006.2,497.2 1025.3,489.7 1044.5,482.2 1063.6,474.8 1082.8,467.3 1102.0,459.9 1121.1,452.5 1140.3,445.1 1159.4,437.8 1178.6,430.4 1197.8,423.0 1216.9,415.7 1236.1,408.4 1255.2,401.1 1274.4,393.8 1293.6,386.5 1312.7,379.3 1331.9,372.1" fill="none" stroke="#626262" stroke-width="1.4" stroke-linejoin="round" />
<polyline points="734.5,599.5 757.1,595.8 776.2,588.2 795.4,580.6 814.6,573.1 833.7,565.5 852.9,558.0 872.0,550.5 891.2,543.0 910.4,535.6 929.5,528.1 948.7,520.7 967.8,513.2 987.0,505.8 1006.2,498.4 1025.3,491.0 1044.5,483.7 1063.6,476.3 1082.8,469.0 1102.0,461.6 1121.1,454.3 1140.3,447.0 1159.4,439.7 1178.6,432.5 1197.8,425.2 1216.9,418.0 1236.1,410.8 1255.2,403.5 1274.4,396.4 1293.6,389.2 1312.7,382.0 1331.9,374.9" fill="none" stroke="#a0566f" stroke-width="1.4" stroke-linejoin="round" />
<polyline points="734.5,599.5 757.1,595.8 776.2,589.1 795.4,582.5 814.6,576.0 833.7,569.4 852.9,562.8 872.0,556.3 891.2,549.7 910.4,543.2 929.5,536.7 948.7,530.2 967.8,523.7 987.0,517.2 1006.2,510.8 1025.3,504.3 1044.5,497.9 1063.6,491.5 1082.8,485.1 1102.0,478.7 1121.1,472.3 1140.3,465.9 1159.4,459.6 1178.6,453.2 1197.8,446.9 1216.9,440.6 1236.1,434.3 1255.2,428.0 1274.4,421.7 1293.6,415.4 1312.7,409.2 1331.9,402.9" fill="none" stroke="#626262" stroke-width="1.4" stroke-linejoin="round" />
</g>
<rect x="709.3" y="82.7" width="653.1" height="526.3" fill="none" stroke="#1c1c1c" stroke-width="2.9"/>
<line x1="709.3" y1="605.0" x2="724.3" y2="605.0" stroke="#1c1c1c" stroke-width="2.6" />
<text x="690.0" y="618.5" font-size="40.5" text-anchor="end" fill="#1c1c1c" >0</text>
<line x1="709.3" y1="500.5" x2="724.3" y2="500.5" stroke="#1c1c1c" stroke-width="2.6" />
<text x="690.0" y="514.0" font-size="40.5" text-anchor="end" fill="#1c1c1c" >0.2</text>
<line x1="709.3" y1="396.0" x2="724.3" y2="396.0" stroke="#1c1c1c" stroke-width="2.6" />
<text x="690.0" y="409.5" font-size="40.5" text-anchor="end" fill="#1c1c1c" >0.4</text>
<line x1="709.3" y1="291.5" x2="724.3" y2="291.5" stroke="#1c1c1c" stroke-width="2.6" />
<text x="690.0" y="305.0" font-size="40.5" text-anchor="end" fill="#1c1c1c" >0.6</text>
<line x1="709.3" y1="187.0" x2="724.3" y2="187.0" stroke="#1c1c1c" stroke-width="2.6" />
<text x="690.0" y="200.5" font-size="40.5" text-anchor="end" fill="#1c1c1c" >0.8</text>
<text x="690.0" y="96.0" font-size="40.5" text-anchor="end" fill="#1c1c1c" >1.0</text>
<line x1="1345.4" y1="599.5" x2="1362.4" y2="599.5" stroke="#1c1c1c" stroke-width="2.6" />
<text x="1376.0" y="613.0" font-size="40.5" text-anchor="start" fill="#1c1c1c" >0</text>
<line x1="1345.4" y1="505.9" x2="1362.4" y2="505.9" stroke="#1c1c1c" stroke-width="2.6" />
<text x="1376.0" y="519.4" font-size="40.5" text-anchor="start" fill="#1c1c1c" >0.1</text>
<line x1="1345.4" y1="412.3" x2="1362.4" y2="412.3" stroke="#1c1c1c" stroke-width="2.6" />
<text x="1376.0" y="425.8" font-size="40.5" text-anchor="start" fill="#1c1c1c" >0.2</text>
<line x1="1345.4" y1="318.7" x2="1362.4" y2="318.7" stroke="#1c1c1c" stroke-width="2.6" />
<text x="1376.0" y="332.2" font-size="40.5" text-anchor="start" fill="#1c1c1c" >0.3</text>
<line x1="1345.4" y1="225.1" x2="1362.4" y2="225.1" stroke="#1c1c1c" stroke-width="2.6" />
<text x="1376.0" y="238.6" font-size="40.5" text-anchor="start" fill="#1c1c1c" >0.4</text>
<line x1="1345.4" y1="131.5" x2="1362.4" y2="131.5" stroke="#1c1c1c" stroke-width="2.6" />
<text x="1376.0" y="145.0" font-size="40.5" text-anchor="start" fill="#1c1c1c" >0.5</text>
<line x1="734.5" y1="609.0" x2="734.5" y2="596.0" stroke="#1c1c1c" stroke-width="2.8" />
<text x="734.5" y="655.6" font-size="40.5" text-anchor="middle" fill="#1c1c1c" >0</text>
<line x1="860.0" y1="609.0" x2="860.0" y2="596.0" stroke="#1c1c1c" stroke-width="2.8" />
<text x="860.0" y="655.6" font-size="40.5" text-anchor="middle" fill="#1c1c1c" >0.05</text>
<line x1="985.5" y1="609.0" x2="985.5" y2="596.0" stroke="#1c1c1c" stroke-width="2.8" />
<text x="985.5" y="655.6" font-size="40.5" text-anchor="middle" fill="#1c1c1c" >0.10</text>
<line x1="1111.0" y1="609.0" x2="1111.0" y2="596.0" stroke="#1c1c1c" stroke-width="2.8" />
<text x="1111.0" y="655.6" font-size="40.5" text-anchor="middle" fill="#1c1c1c" >0.15</text>
<line x1="1236.5" y1="609.0" x2="1236.5" y2="596.0" stroke="#1c1c1c" stroke-width="2.8" />
<text x="1236.5" y="655.6" font-size="40.5" text-anchor="middle" fill="#1c1c1c" >0.20</text>
<text x="1362.0" y="655.6" font-size="40.5" text-anchor="middle" fill="#1c1c1c" >0.25</text>
<text x="1035.0" y="702.6" font-size="41.7" text-anchor="middle" fill="#1c1c1c" >True strain</text>
<text transform="translate(615.0,344.5) rotate(-90)" font-size="41.2" text-anchor="middle" fill="#1c1c1c">Normalized true stress</text>
<text transform="translate(1473.0,347.0) rotate(-90)" font-size="41.2" text-anchor="middle" fill="#1c1c1c">Phase volume fraction</text>
<text x="961.0" y="805.4" font-size="55.6" text-anchor="middle" fill="#1c1c1c" >Crystal plasticity simulation</text>
<text x="947.3" y="1014.0" font-size="55.4" text-anchor="middle" fill="#1c1c1c" >Data preprocessing</text>
<line x1="1016.0" y1="834.5" x2="1016.0" y2="930.0" stroke="#505058" stroke-width="2.5" />
<polygon points="1016.0,966.5 1007.5,927.5 1016.0,930.5 1024.5,927.5" fill="#4a6cc0"/>
<polyline points="1390,989.5 1455.5,989.5 1455.5,558.5 1492,558.5" fill="none" stroke="#505058" stroke-width="2.5"/>
<polygon points="1528.0,558.5 1490.0,548.5 1493.0,558.5 1490.0,568.5" fill="#4a6cc0"/>
<polyline points="1673.5,612 1673.5,1052.5 2465.3,1052.5 2465.3,556 2478,556" fill="none" stroke="#aaaaaa" stroke-width="2.8"/>
<polygon points="2512.0,556.0 2473.0,545.5 2476.0,556.0 2473.0,566.5" fill="#a9a9a9"/>
<polyline points="1756.8,615 1756.8,928.3 2052,928.3" fill="none" stroke="#c9566f" stroke-width="2.6"/>
<polygon points="2088.0,928.3 2048.0,917.3 2051.0,928.3 2048.0,939.3" fill="#e0622a"/>
<polyline points="1724.5,335 1724.5,67.8 1922,67.8" fill="none" stroke="#505058" stroke-width="2.5"/>
<polygon points="1954.0,67.8 1918.0,58.3 1921.0,67.8 1918.0,77.3" fill="#3f6fb5"/>
<circle cx="1728.0" cy="476.4" r="145.6" fill="#4a6cb8"/>
<path d="M1728.2,480.2 L1850.2,555.5 A145.6,145.6 0 0 1 1697.7,618.8 Z" fill="#e0622a"/>
<path d="M1728.2,480.2 L1697.7,618.8 A145.6,145.6 0 0 1 1617.9,571.7 Z" fill="#a6a6a6"/>
<text x="1733.5" y="411.0" font-size="48.6" text-anchor="middle" fill="#f4f6ff" >Training</text>
<text x="1733.0" y="459.5" font-size="48" text-anchor="middle" fill="#f4f6ff" >70%</text>
<text x="1673.5" y="576.0" font-size="34" text-anchor="middle" fill="#2c2c2c" >10%</text>
<text x="1768.0" y="576.0" font-size="34.5" text-anchor="middle" fill="#6e170c" >20%</text>
<text x="1595.0" y="660.0" font-size="40.8" text-anchor="middle" fill="#1c1c1c" >Testing</text>
<text x="1853.0" y="684.5" font-size="41.3" text-anchor="middle" fill="#1c1c1c" >Validation</text>
<text x="1975.5" y="82.8" font-size="54.4" text-anchor="start" fill="#1c1c1c" >Train CNN</text>
<text x="2205.0" y="758.7" font-size="55.5" text-anchor="middle" fill="#1c1c1c" >Hyperparameter</text>
<text x="2205.0" y="825.5" font-size="55.5" text-anchor="middle" fill="#1c1c1c" >optimization</text>
<text x="2204.0" y="928.0" font-size="55.5" text-anchor="middle" fill="#1c1c1c" >Validate</text>
<text x="2204.0" y="993.3" font-size="55.5" text-anchor="middle" fill="#1c1c1c" >CNN</text>
<polyline points="2021.1,226.9 2022.1,233.7 2023.0,341.1 2024.0,415.5 2024.9,467.4 2025.8,502.9 2026.8,526.5 2027.7,544.0 2028.6,555.7 2029.6,563.0 2030.5,569.1 2031.5,572.6 2032.4,575.6 2033.3,577.3 2034.3,579.1 2035.2,579.4 2036.2,579.8 2037.1,580.5 2038.0,580.6 2039.0,580.9 2039.9,581.7 2040.8,581.0 2041.8,581.3 2042.7,581.6 2043.7,581.9 2044.6,581.1 2045.5,581.5 2046.5,581.2 2047.4,581.1 2048.4,581.3 2049.3,581.0 2050.2,581.6 2051.2,581.2 2052.1,581.6 2053.0,581.0 2054.0,581.1 2054.9,581.9 2055.9,581.9 2056.8,581.8 2057.7,581.0 2058.7,581.6 2059.6,581.4 2060.6,581.7 2061.5,581.5 2062.4,581.6 2063.4,581.7 2064.3,581.4 2065.2,581.4 2066.2,581.1 2067.1,581.3 2068.1,581.0 2069.0,581.1 2069.9,581.0 2070.9,581.3 2071.8,581.9 2072.8,581.1 2073.7,581.0 2074.6,581.1 2075.6,581.4 2076.5,581.3 2077.4,581.8 2078.4,581.1 2079.3,581.4 2080.3,581.7 2081.2,582.0 2082.1,581.1 2083.1,581.0 2084.0,581.9 2085.0,581.2 2085.9,581.6 2086.8,581.9 2087.8,581.7 2088.7,581.2 2089.6,581.1 2090.6,582.0 2091.5,581.4 2092.5,582.0 2093.4,581.3 2094.3,581.7 2095.3,575.7 2096.2,581.0 2097.2,581.5 2098.1,581.0 2099.0,581.7 2100.0,582.0 2100.9,581.4 2101.8,582.0 2102.8,581.8 2103.7,581.6 2104.7,581.4 2105.6,581.9 2106.5,582.0 2107.5,581.1 2108.4,581.7 2109.4,581.0 2110.3,581.1 2111.2,581.6 2112.2,581.5 2113.1,581.5 2114.1,581.3 2115.0,581.4 2115.9,581.4 2116.9,581.4 2117.8,581.0 2118.7,581.5 2119.7,581.6 2120.6,581.3 2121.6,581.8 2122.5,581.7 2123.4,581.0 2124.4,581.5 2125.3,581.4 2126.3,582.0 2127.2,581.6 2128.1,581.4 2129.1,582.0 2130.0,581.4 2130.9,581.4 2131.9,582.0 2132.8,581.4 2133.8,581.5 2134.7,581.3 2135.6,581.7 2136.6,581.3 2137.5,581.2 2138.5,582.0 2139.4,582.0 2140.3,581.3 2141.3,581.0 2142.2,581.8 2143.1,581.5 2144.1,581.4 2145.0,581.7 2146.0,581.6 2146.9,581.7 2147.8,581.6 2148.8,581.4 2149.7,581.7 2150.7,581.6 2151.6,581.2 2152.5,582.0 2153.5,581.4 2154.4,581.2 2155.3,581.7 2156.3,581.8 2157.2,581.2 2158.2,581.8 2159.1,581.8 2160.0,581.6 2161.0,581.3 2161.9,581.9 2162.9,581.7 2163.8,581.7 2164.7,581.1 2165.7,581.6 2166.6,581.1 2167.5,581.9 2168.5,581.7 2169.4,581.3 2170.4,581.1 2171.3,581.6 2172.2,558.0 2173.2,439.1 2174.1,319.6 2175.1,439.0 2176.0,557.4 2176.9,581.1 2177.9,581.8 2178.8,581.7 2179.7,581.2 2180.7,581.3 2181.6,581.2 2182.6,581.7 2183.5,581.9 2184.4,581.7 2185.4,581.2 2186.3,581.7 2187.3,581.7 2188.2,581.6 2189.1,581.6 2190.1,581.6 2191.0,581.0 2191.9,581.9 2192.9,582.0 2193.8,581.0 2194.8,581.1 2195.7,581.0 2196.6,581.6 2197.6,581.0 2198.5,581.0 2199.5,581.8 2200.4,581.2 2201.3,581.1 2202.3,575.9 2203.2,581.5 2204.1,581.7 2205.1,581.7 2206.0,581.8 2207.0,582.0 2207.9,581.4 2208.8,581.7 2209.8,581.2 2210.7,582.0 2211.7,581.1 2212.6,581.3 2213.5,581.0 2214.5,581.1 2215.4,581.1 2216.3,581.4 2217.3,582.0 2218.2,581.2 2219.2,581.9 2220.1,581.7 2221.0,581.3 2222.0,581.5 2222.9,581.6 2223.9,581.0 2224.8,581.4 2225.7,581.7 2226.7,581.8 2227.6,581.1 2228.5,581.5 2229.5,581.2 2230.4,581.7 2231.4,581.8 2232.3,581.5 2233.2,581.2 2234.2,581.9 2235.1,581.2 2236.1,581.0 2237.0,581.2 2237.9,581.2 2238.9,582.0 2239.8,581.4 2240.7,581.1 2241.7,582.0 2242.6,581.7 2243.6,581.7 2244.5,581.5 2245.4,581.6 2246.4,581.5 2247.3,581.2 2248.3,582.0 2249.2,582.0 2250.1,581.9 2251.1,581.9 2252.0,582.0 2252.9,581.0 2253.9,581.1 2254.8,581.9 2255.8,581.5 2256.7,581.7 2257.6,581.7 2258.6,581.7 2259.5,581.3 2260.5,581.4 2261.4,581.7 2262.3,581.8 2263.3,581.7 2264.2,581.9 2265.1,581.4 2266.1,573.6 2267.0,554.9 2268.0,536.1 2268.9,555.1 2269.8,574.0 2270.8,581.4 2271.7,581.2 2272.7,581.6 2273.6,581.2 2274.5,581.4 2275.5,581.6 2276.4,581.6 2277.3,581.5 2278.3,581.3 2279.2,581.6 2280.2,581.3 2281.1,581.5 2282.0,581.8 2283.0,581.5 2283.9,581.3 2284.9,582.0 2285.8,581.6 2286.7,581.6 2287.7,581.1 2288.6,581.0 2289.5,581.6 2290.5,581.1 2291.4,581.2 2292.4,581.8 2293.3,581.5 2294.2,581.9 2295.2,581.2 2296.1,581.3 2297.1,581.1 2298.0,581.2 2298.9,581.3 2299.9,581.2 2300.8,581.4 2301.8,581.9 2302.7,581.4 2303.6,582.0 2304.6,581.9 2305.5,581.2 2306.4,582.0 2307.4,581.9 2308.3,581.9 2309.3,581.1 2310.2,581.8 2311.1,582.0 2312.1,581.1 2313.0,581.9 2314.0,581.1 2314.9,581.3 2315.8,581.1 2316.8,581.0 2317.7,581.4 2318.6,581.2 2319.6,582.0 2320.5,581.2 2321.5,581.5 2322.4,581.3 2323.3,581.9 2324.3,581.2 2325.2,581.0 2326.2,582.0 2327.1,581.7 2328.0,581.4 2329.0,581.1 2329.9,581.8 2330.8,581.8 2331.8,581.8 2332.7,581.4 2333.7,581.2 2334.6,581.6 2335.5,581.6 2336.5,581.6 2337.4,581.7 2338.4,581.6 2339.3,582.0 2340.2,581.5 2341.2,581.0 2342.1,581.6 2343.0,581.2 2344.0,581.9 2344.9,581.3 2345.9,581.2 2346.8,581.3 2347.7,581.5 2348.7,581.5 2349.6,581.3 2350.6,581.1 2351.5,581.9 2352.4,581.9 2353.4,581.2 2354.3,581.1 2355.2,581.5 2356.2,581.6 2357.1,581.3 2358.1,581.8 2359.0,581.8 2359.9,581.8 2360.9,581.4 2361.8,581.7 2362.8,581.8 2363.7,581.3 2364.6,581.0 2365.6,581.7 2366.5,581.3 2367.4,581.6 2368.4,581.1 2369.3,581.4 2370.3,581.8 2371.2,581.8 2372.1,582.0 2373.1,581.5 2374.0,581.6 2375.0,581.9 2375.9,581.7 2376.8,581.7 2377.8,581.2 2378.7,581.9 2379.6,581.0 2380.6,581.5 2381.5,581.4 2382.5,581.5 2383.4,581.1 2384.3,581.2 2385.3,581.4 2386.2,581.5 2387.2,581.3 2388.1,581.1 2389.0,581.6 2390.0,581.2 2390.9,581.0 2391.8,581.5 2392.8,581.8 2393.7,581.8 2394.7,581.3 2395.6,581.3" fill="none" stroke="#ababab" stroke-width="2.4" stroke-linejoin="round" stroke-opacity="0.75"/>
<polyline points="2021.6,226.9 2022.6,233.8 2023.5,341.6 2024.5,415.9 2025.4,467.3 2026.3,502.2 2027.3,526.5 2028.2,543.4 2029.1,555.7 2030.1,563.1 2031.0,569.3 2032.0,573.0 2032.9,575.3 2033.8,577.9 2034.8,579.1 2035.7,579.2 2036.7,580.4 2037.6,580.7 2038.5,580.8 2039.5,580.9 2040.4,581.7 2041.3,581.5 2042.3,581.4 2043.2,581.4 2044.2,581.7 2045.1,581.4 2046.0,581.0 2047.0,581.6 2047.9,581.4 2048.9,581.9 2049.8,581.7 2050.7,581.3 2051.7,581.9 2052.6,581.1 2053.5,581.1 2054.5,581.9 2055.4,581.0 2056.4,581.6 2057.3,581.2 2058.2,581.2 2059.2,581.7 2060.1,581.3 2061.1,581.3 2062.0,581.2 2062.9,581.8 2063.9,581.2 2064.8,581.0 2065.7,581.3 2066.7,581.5 2067.6,581.9 2068.6,581.5 2069.5,581.7 2070.4,581.3 2071.4,581.3 2072.3,581.4 2073.3,581.8 2074.2,581.3 2075.1,581.4 2076.1,581.8 2077.0,581.1 2077.9,581.3 2078.9,581.9 2079.8,581.0 2080.8,581.9 2081.7,581.7 2082.6,581.3 2083.6,581.4 2084.5,581.4 2085.5,581.3 2086.4,581.5 2087.3,581.7 2088.3,581.8 2089.2,582.0 2090.1,581.3 2091.1,581.2 2092.0,581.5 2093.0,581.2 2093.9,581.7 2094.8,581.8 2095.8,576.2 2096.7,581.1 2097.7,582.0 2098.6,581.5 2099.5,581.8 2100.5,581.2 2101.4,581.7 2102.3,581.7 2103.3,581.6 2104.2,581.5 2105.2,581.2 2106.1,581.7 2107.0,581.1 2108.0,581.9 2108.9,581.7 2109.9,581.9 2110.8,581.9 2111.7,581.2 2112.7,581.3 2113.6,581.8 2114.6,581.8 2115.5,581.6 2116.4,581.2 2117.4,581.2 2118.3,581.2 2119.2,581.4 2120.2,581.9 2121.1,581.6 2122.1,581.8 2123.0,581.5 2123.9,581.4 2124.9,581.8 2125.8,581.8 2126.8,581.2 2127.7,582.0 2128.6,581.2 2129.6,581.1 2130.5,581.0 2131.4,581.6 2132.4,581.4 2133.3,581.4 2134.3,581.4 2135.2,581.0 2136.1,581.3 2137.1,581.7 2138.0,581.1 2139.0,581.5 2139.9,581.4 2140.8,581.3 2141.8,582.0 2142.7,581.2 2143.6,581.3 2144.6,581.5 2145.5,581.5 2146.5,581.5 2147.4,581.8 2148.3,581.5 2149.3,582.0 2150.2,581.5 2151.2,581.3 2152.1,581.6 2153.0,581.4 2154.0,581.0 2154.9,581.1 2155.8,581.9 2156.8,581.2 2157.7,581.4 2158.7,582.0 2159.6,581.7 2160.5,581.8 2161.5,582.0 2162.4,581.5 2163.4,581.0 2164.3,581.7 2165.2,581.1 2166.2,581.3 2167.1,581.9 2168.0,581.1 2169.0,581.4 2169.9,581.0 2170.9,581.3 2171.8,581.2 2172.7,557.9 2173.7,438.3 2174.6,319.1 2175.6,438.3 2176.5,557.8 2177.4,581.2 2178.4,581.5 2179.3,581.9 2180.2,582.0 2181.2,582.0 2182.1,581.8 2183.1,581.9 2184.0,581.5 2184.9,581.3 2185.9,581.5 2186.8,581.6 2187.8,581.3 2188.7,581.7 2189.6,581.5 2190.6,581.2 2191.5,581.6 2192.4,581.8 2193.4,581.1 2194.3,581.3 2195.3,581.6 2196.2,581.6 2197.1,581.5 2198.1,581.4 2199.0,581.8 2200.0,582.0 2200.9,581.8 2201.8,581.2 2202.8,576.5 2203.7,581.5 2204.6,581.8 2205.6,581.8 2206.5,581.9 2207.5,581.6 2208.4,581.9 2209.3,582.0 2210.3,581.9 2211.2,581.9 2212.2,581.5 2213.1,582.0 2214.0,582.0 2215.0,581.6 2215.9,581.6 2216.8,581.3 2217.8,582.0 2218.7,581.6 2219.7,581.6 2220.6,582.0 2221.5,581.0 2222.5,581.8 2223.4,581.9 2224.4,581.5 2225.3,581.9 2226.2,581.4 2227.2,581.7 2228.1,581.9 2229.0,582.0 2230.0,581.3 2230.9,581.7 2231.9,581.2 2232.8,581.5 2233.7,581.0 2234.7,581.7 2235.6,581.8 2236.6,581.8 2237.5,581.2 2238.4,581.4 2239.4,581.7 2240.3,581.9 2241.2,581.3 2242.2,581.0 2243.1,581.4 2244.1,582.0 2245.0,582.0 2245.9,581.9 2246.9,581.9 2247.8,582.0 2248.8,582.0 2249.7,581.3 2250.6,581.1 2251.6,581.8 2252.5,581.0 2253.4,581.5 2254.4,581.2 2255.3,581.0 2256.3,581.0 2257.2,582.0 2258.1,581.7 2259.1,581.4 2260.0,581.0 2261.0,581.9 2261.9,581.7 2262.8,581.1 2263.8,581.9 2264.7,581.6 2265.6,581.7 2266.6,573.7 2267.5,554.3 2268.5,536.0 2269.4,554.5 2270.3,573.6 2271.3,581.1 2272.2,581.4 2273.2,581.0 2274.1,581.6 2275.0,581.6 2276.0,581.8 2276.9,581.2 2277.8,581.5 2278.8,581.7 2279.7,581.9 2280.7,581.3 2281.6,581.4 2282.5,581.3 2283.5,581.6 2284.4,581.5 2285.4,581.9 2286.3,581.3 2287.2,582.0 2288.2,581.5 2289.1,581.2 2290.0,581.3 2291.0,581.9 2291.9,581.8 2292.9,581.1 2293.8,581.3 2294.7,581.1 2295.7,581.1 2296.6,581.6 2297.6,581.1 2298.5,581.2 2299.4,581.7 2300.4,581.6 2301.3,582.0 2302.2,581.6 2303.2,581.0 2304.1,581.9 2305.1,581.4 2306.0,581.9 2306.9,582.0 2307.9,581.3 2308.8,581.8 2309.8,582.0 2310.7,581.9 2311.6,581.3 2312.6,581.4 2313.5,582.0 2314.5,581.8 2315.4,581.0 2316.3,581.8 2317.3,581.4 2318.2,581.6 2319.1,581.2 2320.1,581.4 2321.0,581.2 2322.0,581.5 2322.9,581.8 2323.8,581.8 2324.8,582.0 2325.7,581.1 2326.7,581.9 2327.6,582.0 2328.5,581.0 2329.5,581.8 2330.4,581.1 2331.3,581.9 2332.3,581.5 2333.2,581.8 2334.2,581.1 2335.1,581.4 2336.0,581.3 2337.0,581.2 2337.9,581.1 2338.9,581.7 2339.8,581.4 2340.7,581.6 2341.7,581.9 2342.6,581.1 2343.5,581.4 2344.5,581.2 2345.4,581.8 2346.4,581.5 2347.3,581.5 2348.2,581.3 2349.2,582.0 2350.1,581.7 2351.1,581.5 2352.0,582.0 2352.9,581.4 2353.9,581.2 2354.8,581.6 2355.7,581.3 2356.7,581.4 2357.6,581.8 2358.6,581.7 2359.5,581.0 2360.4,581.7 2361.4,581.6 2362.3,581.9 2363.3,581.8 2364.2,581.9 2365.1,581.0 2366.1,581.3 2367.0,581.1 2367.9,581.0 2368.9,581.4 2369.8,581.0 2370.8,581.5 2371.7,581.6 2372.6,581.0 2373.6,581.1 2374.5,581.0 2375.5,581.5 2376.4,581.2 2377.3,581.6 2378.3,581.0 2379.2,581.0 2380.1,581.7 2381.1,581.0 2382.0,581.8 2383.0,581.9 2383.9,581.3 2384.8,581.7 2385.8,581.5 2386.7,581.3 2387.7,582.0 2388.6,581.2 2389.5,581.7 2390.5,581.6 2391.4,581.7 2392.3,581.2 2393.3,581.2 2394.2,581.7 2395.2,581.9 2396.1,581.7" fill="none" stroke="#ababab" stroke-width="2.4" stroke-linejoin="round" stroke-opacity="0.75"/>
<polyline points="2022.1,226.9 2023.1,233.9 2024.0,340.9 2025.0,415.4 2025.9,466.4 2026.8,501.9 2027.8,526.5 2028.7,543.9 2029.6,555.8 2030.6,563.7 2031.5,569.1 2032.5,572.9 2033.4,575.5 2034.3,577.6 2035.3,578.3 2036.2,579.8 2037.2,580.2 2038.1,580.2 2039.0,580.5 2040.0,581.3 2040.9,581.5 2041.8,581.0 2042.8,581.9 2043.7,581.8 2044.7,581.4 2045.6,581.4 2046.5,581.8 2047.5,582.0 2048.4,581.8 2049.4,581.2 2050.3,581.5 2051.2,581.0 2052.2,581.2 2053.1,581.0 2054.0,582.0 2055.0,581.8 2055.9,582.0 2056.9,581.6 2057.8,581.7 2058.7,582.0 2059.7,581.5 2060.6,581.9 2061.6,581.7 2062.5,581.8 2063.4,581.2 2064.4,581.6 2065.3,581.8 2066.2,582.0 2067.2,581.6 2068.1,581.4 2069.1,581.3 2070.0,581.1 2070.9,581.2 2071.9,581.8 2072.8,581.9 2073.8,581.2 2074.7,581.2 2075.6,581.5 2076.6,581.1 2077.5,581.4 2078.4,581.7 2079.4,581.9 2080.3,582.0 2081.3,581.3 2082.2,581.1 2083.1,581.1 2084.1,581.5 2085.0,581.3 2086.0,581.0 2086.9,581.2 2087.8,581.4 2088.8,581.6 2089.7,581.5 2090.6,581.9 2091.6,581.8 2092.5,581.3 2093.5,581.0 2094.4,581.4 2095.3,581.6 2096.3,576.3 2097.2,581.5 2098.2,581.2 2099.1,581.6 2100.0,581.0 2101.0,581.9 2101.9,581.7 2102.8,581.5 2103.8,581.6 2104.7,581.1 2105.7,581.1 2106.6,581.0 2107.5,581.4 2108.5,582.0 2109.4,581.4 2110.4,581.4 2111.3,581.5 2112.2,581.7 2113.2,581.3 2114.1,581.1 2115.1,581.9 2116.0,581.3 2116.9,581.6 2117.9,581.5 2118.8,581.1 2119.7,581.0 2120.7,581.3 2121.6,581.8 2122.6,581.0 2123.5,581.8 2124.4,581.6 2125.4,581.1 2126.3,581.7 2127.3,581.7 2128.2,581.0 2129.1,581.0 2130.1,581.7 2131.0,581.6 2131.9,581.7 2132.9,581.9 2133.8,581.8 2134.8,581.0 2135.7,582.0 2136.6,581.8 2137.6,581.8 2138.5,582.0 2139.5,581.5 2140.4,581.2 2141.3,581.1 2142.3,581.4 2143.2,581.2 2144.1,582.0 2145.1,581.7 2146.0,581.0 2147.0,582.0 2147.9,581.8 2148.8,581.5 2149.8,581.8 2150.7,581.5 2151.7,582.0 2152.6,581.8 2153.5,581.0 2154.5,581.9 2155.4,581.1 2156.3,581.8 2157.3,581.0 2158.2,581.3 2159.2,581.3 2160.1,581.9 2161.0,582.0 2162.0,581.2 2162.9,581.8 2163.9,581.8 2164.8,581.2 2165.7,581.1 2166.7,582.0 2167.6,581.0 2168.5,581.5 2169.5,581.6 2170.4,581.9 2171.4,581.6 2172.3,581.0 2173.2,557.9 2174.2,439.0 2175.1,320.0 2176.1,439.0 2177.0,557.9 2177.9,581.1 2178.9,582.0 2179.8,581.8 2180.7,581.0 2181.7,581.0 2182.6,581.0 2183.6,581.8 2184.5,581.7 2185.4,581.0 2186.4,581.5 2187.3,581.3 2188.3,581.7 2189.2,582.0 2190.1,581.7 2191.1,581.2 2192.0,581.2 2192.9,581.4 2193.9,581.5 2194.8,581.5 2195.8,581.6 2196.7,581.5 2197.6,581.1 2198.6,581.8 2199.5,581.4 2200.5,581.0 2201.4,581.1 2202.3,581.8 2203.3,575.6 2204.2,581.1 2205.1,581.9 2206.1,581.8 2207.0,581.8 2208.0,582.0 2208.9,581.0 2209.8,581.6 2210.8,581.1 2211.7,581.9 2212.7,582.0 2213.6,581.1 2214.5,581.2 2215.5,581.0 2216.4,581.3 2217.3,581.5 2218.3,581.2 2219.2,581.9 2220.2,581.5 2221.1,581.6 2222.0,581.9 2223.0,581.4 2223.9,581.7 2224.9,581.5 2225.8,581.6 2226.7,581.7 2227.7,581.7 2228.6,581.4 2229.5,581.0 2230.5,581.0 2231.4,581.1 2232.4,581.1 2233.3,581.7 2234.2,581.0 2235.2,581.7 2236.1,581.9 2237.1,581.5 2238.0,581.2 2238.9,581.7 2239.9,581.3 2240.8,581.7 2241.7,581.0 2242.7,581.6 2243.6,581.5 2244.6,581.5 2245.5,581.1 2246.4,581.0 2247.4,581.5 2248.3,581.6 2249.3,581.4 2250.2,582.0 2251.1,581.6 2252.1,581.1 2253.0,581.2 2253.9,582.0 2254.9,581.1 2255.8,581.6 2256.8,581.0 2257.7,581.6 2258.6,581.8 2259.6,581.4 2260.5,581.1 2261.5,581.6 2262.4,581.1 2263.3,581.3 2264.3,581.6 2265.2,581.7 2266.1,581.5 2267.1,574.0 2268.0,554.9 2269.0,535.4 2269.9,554.3 2270.8,573.8 2271.8,581.9 2272.7,581.8 2273.7,581.6 2274.6,581.4 2275.5,581.9 2276.5,582.0 2277.4,581.7 2278.3,581.7 2279.3,582.0 2280.2,581.5 2281.2,581.0 2282.1,581.5 2283.0,581.2 2284.0,581.1 2284.9,581.1 2285.9,581.1 2286.8,581.6 2287.7,581.3 2288.7,581.9 2289.6,581.1 2290.5,581.6 2291.5,581.5 2292.4,581.1 2293.4,581.7 2294.3,581.8 2295.2,581.2 2296.2,581.4 2297.1,581.9 2298.1,582.0 2299.0,581.7 2299.9,582.0 2300.9,581.1 2301.8,581.8 2302.8,581.7 2303.7,581.6 2304.6,581.5 2305.6,581.6 2306.5,581.4 2307.4,581.3 2308.4,581.6 2309.3,581.9 2310.3,581.0 2311.2,581.3 2312.1,581.9 2313.1,581.6 2314.0,581.2 2315.0,581.0 2315.9,582.0 2316.8,582.0 2317.8,581.5 2318.7,581.6 2319.6,581.1 2320.6,581.1 2321.5,581.7 2322.5,581.6 2323.4,581.4 2324.3,581.1 2325.3,581.8 2326.2,581.6 2327.2,581.9 2328.1,581.3 2329.0,582.0 2330.0,581.0 2330.9,581.5 2331.8,581.4 2332.8,581.9 2333.7,581.8 2334.7,581.5 2335.6,581.1 2336.5,581.5 2337.5,581.7 2338.4,581.0 2339.4,581.3 2340.3,581.5 2341.2,581.8 2342.2,581.7 2343.1,581.1 2344.0,581.9 2345.0,581.5 2345.9,581.4 2346.9,581.7 2347.8,581.2 2348.7,581.1 2349.7,581.1 2350.6,581.2 2351.6,581.8 2352.5,582.0 2353.4,581.6 2354.4,581.7 2355.3,581.8 2356.2,581.1 2357.2,581.8 2358.1,581.2 2359.1,581.0 2360.0,581.9 2360.9,581.1 2361.9,581.6 2362.8,581.8 2363.8,581.8 2364.7,582.0 2365.6,581.5 2366.6,581.6 2367.5,581.1 2368.4,581.1 2369.4,582.0 2370.3,581.6 2371.3,581.6 2372.2,581.8 2373.1,581.8 2374.1,581.8 2375.0,581.3 2376.0,581.7 2376.9,581.9 2377.8,581.8 2378.8,581.6 2379.7,581.4 2380.6,581.8 2381.6,581.3 2382.5,581.8 2383.5,581.3 2384.4,581.4 2385.3,581.9 2386.3,581.2 2387.2,581.6 2388.2,581.5 2389.1,581.4 2390.0,581.4 2391.0,581.6 2391.9,582.0 2392.8,581.2 2393.8,581.1 2394.7,581.5 2395.7,581.4 2396.6,581.8" fill="none" stroke="#ababab" stroke-width="2.4" stroke-linejoin="round" stroke-opacity="0.75"/>
<rect x="1974.4" y="226.4" width="469.2" height="378.2" fill="none" stroke="#1c1c1c" stroke-width="2.9"/>
<line x1="1974.4" y1="586.0" x2="1988.4" y2="586.0" stroke="#1c1c1c" stroke-width="2.6" />
<text x="1962.8" y="597.0" font-size="33.6" text-anchor="end" fill="#1c1c1c" >0</text>
<line x1="1974.4" y1="550.0" x2="1988.4" y2="550.0" stroke="#1c1c1c" stroke-width="2.6" />
<text x="1962.8" y="561.0" font-size="33.6" text-anchor="end" fill="#1c1c1c" >0.02</text>
<line x1="1974.4" y1="514.0" x2="1988.4" y2="514.0" stroke="#1c1c1c" stroke-width="2.6" />
<text x="1962.8" y="525.0" font-size="33.6" text-anchor="end" fill="#1c1c1c" >0.04</text>
<line x1="1974.4" y1="478.0" x2="1988.4" y2="478.0" stroke="#1c1c1c" stroke-width="2.6" />
<text x="1962.8" y="489.0" font-size="33.6" text-anchor="end" fill="#1c1c1c" >0.06</text>
<line x1="1974.4" y1="442.0" x2="1988.4" y2="442.0" stroke="#1c1c1c" stroke-width="2.6" />
<text x="1962.8" y="453.0" font-size="33.6" text-anchor="end" fill="#1c1c1c" >0.08</text>
<line x1="1974.4" y1="406.0" x2="1988.4" y2="406.0" stroke="#1c1c1c" stroke-width="2.6" />
<text x="1962.8" y="417.0" font-size="33.6" text-anchor="end" fill="#1c1c1c" >0.10</text>
<line x1="1974.4" y1="370.0" x2="1988.4" y2="370.0" stroke="#1c1c1c" stroke-width="2.6" />
<text x="1962.8" y="381.0" font-size="33.6" text-anchor="end" fill="#1c1c1c" >0.12</text>
<line x1="1974.4" y1="334.0" x2="1988.4" y2="334.0" stroke="#1c1c1c" stroke-width="2.6" />
<text x="1962.8" y="345.0" font-size="33.6" text-anchor="end" fill="#1c1c1c" >0.14</text>
<line x1="1974.4" y1="298.0" x2="1988.4" y2="298.0" stroke="#1c1c1c" stroke-width="2.6" />
<text x="1962.8" y="309.0" font-size="33.6" text-anchor="end" fill="#1c1c1c" >0.16</text>
<line x1="1974.4" y1="262.0" x2="1988.4" y2="262.0" stroke="#1c1c1c" stroke-width="2.6" />
<text x="1962.8" y="273.0" font-size="33.6" text-anchor="end" fill="#1c1c1c" >0.18</text>
<text x="1962.8" y="237.0" font-size="33.6" text-anchor="end" fill="#1c1c1c" >0.20</text>
<line x1="2020.7" y1="604.6" x2="2020.7" y2="591.6" stroke="#1c1c1c" stroke-width="2.6" />
<text x="2020.7" y="639.3" font-size="34.5" text-anchor="middle" fill="#1c1c1c" >0</text>
<line x1="2114.6" y1="604.6" x2="2114.6" y2="591.6" stroke="#1c1c1c" stroke-width="2.6" />
<text x="2114.6" y="639.3" font-size="34.5" text-anchor="middle" fill="#1c1c1c" >50</text>
<line x1="2208.4" y1="604.6" x2="2208.4" y2="591.6" stroke="#1c1c1c" stroke-width="2.6" />
<text x="2208.4" y="639.3" font-size="34.5" text-anchor="middle" fill="#1c1c1c" >100</text>
<line x1="2302.2" y1="604.6" x2="2302.2" y2="591.6" stroke="#1c1c1c" stroke-width="2.6" />
<text x="2302.2" y="639.3" font-size="34.5" text-anchor="middle" fill="#1c1c1c" >150</text>
<line x1="2396.1" y1="604.6" x2="2396.1" y2="591.6" stroke="#1c1c1c" stroke-width="2.6" />
<text x="2396.1" y="639.3" font-size="34.5" text-anchor="middle" fill="#1c1c1c" >200</text>
<text x="2209.0" y="678.8" font-size="34.5" text-anchor="middle" fill="#1c1c1c" >Epoch</text>
<text transform="translate(1893.0,415.5) rotate(-90)" font-size="33.6" text-anchor="middle" fill="#1c1c1c">Loss</text>
<line x1="2217.0" y1="260.7" x2="2265.5" y2="260.7" stroke="#adadad" stroke-width="2.6" />
<text x="2288.3" y="270.7" font-size="33.6" text-anchor="start" fill="#1c1c1c" >Train loss</text>
<line x1="2217.0" y1="299.0" x2="2265.5" y2="299.0" stroke="#adadad" stroke-width="2.6" />
<text x="2288.3" y="302.7" font-size="33.6" text-anchor="start" fill="#1c1c1c" >Val loss</text>
<line x1="2217.0" y1="337.2" x2="2265.5" y2="337.2" stroke="#adadad" stroke-width="2.6" />
<text x="2288.3" y="344.6" font-size="33.6" text-anchor="start" fill="#1c1c1c" >Train loss</text>
<line x1="2217.0" y1="373.5" x2="2265.5" y2="373.5" stroke="#adadad" stroke-width="2.6" />
<text x="2288.3" y="386.8" font-size="33.6" text-anchor="start" fill="#1c1c1c" >Val loss</text>
<text x="2846.4" y="58.8" font-size="55.3" text-anchor="middle" fill="#1c1c1c" >Well-trained CNN</text>
<polyline points="2628.5,443.0 2630.5,405.0 2633.0,360.0 2637.8,290.0 2642.3,226.0 2643.8,219.0 2648.5,209.5 2656.7,201.7 2668.0,195.5 2680.0,190.0 2708.0,179.5 2736.7,170.0 2775.0,159.8 2813.0,150.0 2846.0,141.7 2880.0,134.5 2913.3,128.5 2950.0,123.2 2985.0,119.2 3017.3,116.0" fill="none" stroke="#f08aa4" stroke-width="5.0" stroke-linejoin="round" stroke-opacity="0.35"/>
<polyline points="2628.5,443.0 2634.0,441.0 2640.0,436.5 2648.0,430.0 2657.6,422.0 2684.3,397.5 2710.2,373.5 2737.7,349.5 2764.4,327.5 2789.7,307.0 2816.7,285.5 2846.7,261.0 2880.0,234.5 2913.3,209.0 2946.0,187.0 2980.0,168.3 3017.3,148.3" fill="none" stroke="#f08aa4" stroke-width="5.0" stroke-linejoin="round" stroke-opacity="0.35"/>
<polyline points="2628.5,443.0 2630.5,405.0 2633.0,360.0 2637.8,290.0 2642.3,226.0 2643.8,219.0 2648.5,209.5 2656.7,201.7 2668.0,195.5 2680.0,190.0 2708.0,179.5 2736.7,170.0 2775.0,159.8 2813.0,150.0 2846.0,141.7 2880.0,134.5 2913.3,128.5 2950.0,123.2 2985.0,119.2 3017.3,116.0" fill="none" stroke="#cf2a52" stroke-width="2.6" stroke-linejoin="round" />
<polyline points="2631.5,443.0 2634.0,400.0 2637.0,350.0 2641.0,290.0 2643.6,245.0 2644.2,221.0" fill="none" stroke="#cf2a52" stroke-width="2.2" stroke-linejoin="round" stroke-opacity="0.7"/>
<polyline points="2628.5,443.0 2634.0,441.0 2640.0,436.5 2648.0,430.0 2657.6,422.0 2684.3,397.5 2710.2,373.5 2737.7,349.5 2764.4,327.5 2789.7,307.0 2816.7,285.5 2846.7,261.0 2880.0,234.5 2913.3,209.0 2946.0,187.0 2980.0,168.3 3017.3,148.3" fill="none" stroke="#a8324e" stroke-width="2.4" stroke-linejoin="round" />
<rect x="2625.1" y="439.8" width="6.2" height="6.2" fill="#1a1a1a" />
<rect x="2653.6" y="194.2" width="6.2" height="6.2" fill="#1a1a1a" />
<rect x="2680.2" y="178.6" width="6.2" height="6.2" fill="#1a1a1a" />
<rect x="2706.9" y="169.2" width="6.2" height="6.2" fill="#1a1a1a" />
<rect x="2733.6" y="161.9" width="6.2" height="6.2" fill="#1a1a1a" />
<rect x="2760.2" y="154.2" width="6.2" height="6.2" fill="#1a1a1a" />
<rect x="2786.9" y="147.6" width="6.2" height="6.2" fill="#1a1a1a" />
<rect x="2813.6" y="142.6" width="6.2" height="6.2" fill="#1a1a1a" />
<rect x="2840.2" y="136.9" width="6.2" height="6.2" fill="#1a1a1a" />
<rect x="2867.6" y="131.2" width="6.2" height="6.2" fill="#1a1a1a" />
<rect x="2894.2" y="126.9" width="6.2" height="6.2" fill="#1a1a1a" />
<rect x="2920.9" y="122.6" width="6.2" height="6.2" fill="#1a1a1a" />
<rect x="2947.6" y="119.2" width="6.2" height="6.2" fill="#1a1a1a" />
<rect x="2974.2" y="115.9" width="6.2" height="6.2" fill="#1a1a1a" />
<rect x="3000.9" y="111.9" width="6.2" height="6.2" fill="#1a1a1a" />
<rect x="3014.2" y="110.2" width="6.2" height="6.2" fill="#1a1a1a" />
<rect x="2654.5" y="418.9" width="6.2" height="6.2" fill="#1a1a1a" />
<rect x="2681.2" y="393.6" width="6.2" height="6.2" fill="#1a1a1a" />
<rect x="2707.1" y="369.0" width="6.2" height="6.2" fill="#1a1a1a" />
<rect x="2734.6" y="345.8" width="6.2" height="6.2" fill="#1a1a1a" />
<rect x="2761.3" y="323.1" width="6.2" height="6.2" fill="#1a1a1a" />
<rect x="2786.6" y="302.4" width="6.2" height="6.2" fill="#1a1a1a" />
<rect x="2813.6" y="282.6" width="6.2" height="6.2" fill="#1a1a1a" />
<rect x="2840.2" y="263.6" width="6.2" height="6.2" fill="#1a1a1a" />
<rect x="2867.6" y="245.2" width="6.2" height="6.2" fill="#1a1a1a" />
<rect x="2894.2" y="227.6" width="6.2" height="6.2" fill="#1a1a1a" />
<rect x="2920.9" y="210.9" width="6.2" height="6.2" fill="#1a1a1a" />
<rect x="2947.6" y="194.2" width="6.2" height="6.2" fill="#1a1a1a" />
<rect x="2974.2" y="179.2" width="6.2" height="6.2" fill="#1a1a1a" />
<rect x="3000.9" y="163.6" width="6.2" height="6.2" fill="#1a1a1a" />
<rect x="3014.2" y="156.2" width="6.2" height="6.2" fill="#1a1a1a" />
<rect x="2610.3" y="93.3" width="440.9" height="354.3" fill="none" stroke="#1c1c1c" stroke-width="2.9"/>
<line x1="2610.3" y1="443.2" x2="2624.3" y2="443.2" stroke="#1c1c1c" stroke-width="2.6" />
<text x="2599.5" y="454.5" font-size="34.2" text-anchor="end" fill="#1c1c1c" >0</text>
<line x1="2610.3" y1="396.6" x2="2624.3" y2="396.6" stroke="#1c1c1c" stroke-width="2.6" />
<text x="2599.5" y="407.9" font-size="34.2" text-anchor="end" fill="#1c1c1c" >0.1</text>
<line x1="2610.3" y1="350.0" x2="2624.3" y2="350.0" stroke="#1c1c1c" stroke-width="2.6" />
<text x="2599.5" y="361.3" font-size="34.2" text-anchor="end" fill="#1c1c1c" >0.2</text>
<line x1="2610.3" y1="303.4" x2="2624.3" y2="303.4" stroke="#1c1c1c" stroke-width="2.6" />
<text x="2599.5" y="314.7" font-size="34.2" text-anchor="end" fill="#1c1c1c" >0.3</text>
<line x1="2610.3" y1="256.8" x2="2624.3" y2="256.8" stroke="#1c1c1c" stroke-width="2.6" />
<text x="2599.5" y="268.1" font-size="34.2" text-anchor="end" fill="#1c1c1c" >0.4</text>
<line x1="2610.3" y1="210.2" x2="2624.3" y2="210.2" stroke="#1c1c1c" stroke-width="2.6" />
<text x="2599.5" y="221.5" font-size="34.2" text-anchor="end" fill="#1c1c1c" >0.5</text>
<line x1="2610.3" y1="163.6" x2="2624.3" y2="163.6" stroke="#1c1c1c" stroke-width="2.6" />
<text x="2599.5" y="174.9" font-size="34.2" text-anchor="end" fill="#1c1c1c" >0.6</text>
<line x1="2610.3" y1="117.0" x2="2624.3" y2="117.0" stroke="#1c1c1c" stroke-width="2.6" />
<text x="2599.5" y="128.3" font-size="34.2" text-anchor="end" fill="#1c1c1c" >0.7</text>
<line x1="3037.2" y1="442.0" x2="3051.2" y2="442.0" stroke="#1c1c1c" stroke-width="2.6" />
<text x="3060.0" y="453.6" font-size="34.4" text-anchor="start" fill="#1c1c1c" >0</text>
<line x1="3037.2" y1="364.4" x2="3051.2" y2="364.4" stroke="#1c1c1c" stroke-width="2.6" />
<text x="3060.0" y="376.1" font-size="34.4" text-anchor="start" fill="#1c1c1c" >0.1</text>
<line x1="3037.2" y1="286.9" x2="3051.2" y2="286.9" stroke="#1c1c1c" stroke-width="2.6" />
<text x="3060.0" y="298.5" font-size="34.4" text-anchor="start" fill="#1c1c1c" >0.2</text>
<line x1="3037.2" y1="209.4" x2="3051.2" y2="209.4" stroke="#1c1c1c" stroke-width="2.6" />
<text x="3060.0" y="221.0" font-size="34.4" text-anchor="start" fill="#1c1c1c" >0.3</text>
<line x1="3037.2" y1="131.8" x2="3051.2" y2="131.8" stroke="#1c1c1c" stroke-width="2.6" />
<text x="3060.0" y="143.4" font-size="34.4" text-anchor="start" fill="#1c1c1c" >0.4</text>
<text x="2610.0" y="482.8" font-size="34.2" text-anchor="middle" fill="#1c1c1c" >0</text>
<line x1="2684.3" y1="447.6" x2="2684.3" y2="433.6" stroke="#1c1c1c" stroke-width="2.6" />
<text x="2678.0" y="482.8" font-size="34.2" text-anchor="middle" fill="#1c1c1c" >5</text>
<line x1="2751.1" y1="447.6" x2="2751.1" y2="433.6" stroke="#1c1c1c" stroke-width="2.6" />
<text x="2746.0" y="482.8" font-size="34.2" text-anchor="middle" fill="#1c1c1c" >10</text>
<line x1="2817.9" y1="447.6" x2="2817.9" y2="433.6" stroke="#1c1c1c" stroke-width="2.6" />
<text x="2814.0" y="482.8" font-size="34.2" text-anchor="middle" fill="#1c1c1c" >15</text>
<line x1="2884.7" y1="447.6" x2="2884.7" y2="433.6" stroke="#1c1c1c" stroke-width="2.6" />
<text x="2882.0" y="482.8" font-size="34.2" text-anchor="middle" fill="#1c1c1c" >20</text>
<line x1="2951.5" y1="447.6" x2="2951.5" y2="433.6" stroke="#1c1c1c" stroke-width="2.6" />
<text x="2950.0" y="482.8" font-size="34.2" text-anchor="middle" fill="#1c1c1c" >25</text>
<line x1="3018.3" y1="447.6" x2="3018.3" y2="433.6" stroke="#1c1c1c" stroke-width="2.6" />
<text x="3018.0" y="482.8" font-size="34.2" text-anchor="middle" fill="#1c1c1c" >30</text>
<text x="2813.0" y="513.6" font-size="34.2" text-anchor="middle" fill="#1c1c1c" >True strain</text>
<text transform="translate(2535.0,278.4) rotate(-90)" font-size="34.2" text-anchor="middle" fill="#1c1c1c">Normalized true stress</text>
<text transform="translate(3139.5,268.2) rotate(-90)" font-size="35.2" text-anchor="middle" fill="#1c1c1c">Phase volume fraction</text>
<rect x="2804.3" y="366.4" width="7.2" height="7.2" fill="#1a1a1a" />
<text x="2849.6" y="377.2" font-size="34.2" text-anchor="start" fill="#1c1c1c" >Predict</text>
<line x1="2785.7" y1="401.0" x2="2829.8" y2="401.0" stroke="#cf2a52" stroke-width="2.6" />
<text x="2849.6" y="413.2" font-size="34.2" text-anchor="start" fill="#1c1c1c" >Ground truth</text>
<rect x="2625.5" y="648.5" width="69.5" height="291.8" fill="#f6a872" />
<rect x="2695.0" y="864.0" width="67.0" height="76.3" fill="#e9201c" />
<text x="2661.2" y="642.5" font-size="27.2" text-anchor="middle" fill="#1c1c1c" >728.6</text>
<text x="2699.0" y="855.4" font-size="27.5" text-anchor="start" fill="#1c1c1c" >0.382 9</text>
<rect x="2793.6" y="624.3" width="68.6" height="316.0" fill="#f6a872" />
<rect x="2862.2" y="864.0" width="66.3" height="76.3" fill="#e9201c" />
<text x="2828.9" y="618.3" font-size="27.2" text-anchor="middle" fill="#1c1c1c" >756.1</text>
<text x="2866.2" y="855.4" font-size="27.5" text-anchor="start" fill="#1c1c1c" >0.382 9</text>
<rect x="2960.8" y="682.5" width="69.0" height="257.8" fill="#f6a872" />
<rect x="3029.8" y="864.0" width="67.2" height="76.3" fill="#e9201c" />
<text x="2996.3" y="676.5" font-size="27.2" text-anchor="middle" fill="#1c1c1c" >693.2</text>
<text x="3027.0" y="855.4" font-size="27.5" text-anchor="start" fill="#1c1c1c" >0.382 9</text>
<rect x="2625.5" y="648.5" width="11.0" height="291.8" fill="#d8a98a" />
<rect x="2849.5" y="624.3" width="11.8" height="316.0" fill="#f6a68a" />
<rect x="2960.8" y="682.5" width="13.0" height="257.8" fill="#f7a694" />
<rect x="2624.5" y="736.6" width="71.5" height="5.4" fill="#f5f5f5" />
<rect x="2792.6" y="736.6" width="70.6" height="5.4" fill="#f5f5f5" />
<rect x="2959.8" y="736.6" width="71.0" height="5.4" fill="#f5f5f5" />
<rect x="2610.5" y="536.2" width="502.7" height="404.1" fill="none" stroke="#1c1c1c" stroke-width="2.9"/>
<rect x="2606.0" y="735.5" width="9.0" height="7.5" fill="#f8f8f8" />
<line x1="2601.0" y1="737.5" x2="2620.0" y2="732.5" stroke="#1c1c1c" stroke-width="2.4" />
<line x1="2601.0" y1="744.5" x2="2620.0" y2="739.5" stroke="#1c1c1c" stroke-width="2.4" />
<rect x="3109.0" y="737.3" width="9.0" height="4.0" fill="#f8f8f8" />
<line x1="2610.5" y1="582.6" x2="2623.5" y2="582.6" stroke="#1c1c1c" stroke-width="2.6" />
<text x="2595.5" y="593.4" font-size="33.6" text-anchor="end" fill="#1c1c1c" >800</text>
<line x1="2610.5" y1="675.8" x2="2623.5" y2="675.8" stroke="#1c1c1c" stroke-width="2.6" />
<text x="2595.5" y="686.6" font-size="33.6" text-anchor="end" fill="#1c1c1c" >700</text>
<line x1="2610.5" y1="780.3" x2="2623.5" y2="780.3" stroke="#1c1c1c" stroke-width="2.6" />
<text x="2595.5" y="791.1" font-size="33.6" text-anchor="end" fill="#1c1c1c" >0.8</text>
<line x1="2610.5" y1="820.3" x2="2623.5" y2="820.3" stroke="#1c1c1c" stroke-width="2.6" />
<text x="2595.5" y="831.1" font-size="33.6" text-anchor="end" fill="#1c1c1c" >0.6</text>
<line x1="2610.5" y1="860.3" x2="2623.5" y2="860.3" stroke="#1c1c1c" stroke-width="2.6" />
<text x="2595.5" y="871.1" font-size="33.6" text-anchor="end" fill="#1c1c1c" >0.4</text>
<line x1="2610.5" y1="900.3" x2="2623.5" y2="900.3" stroke="#1c1c1c" stroke-width="2.6" />
<text x="2595.5" y="911.1" font-size="33.6" text-anchor="end" fill="#1c1c1c" >0.2</text>
<text x="2595.5" y="951.1" font-size="33.6" text-anchor="end" fill="#1c1c1c" >0</text>
<line x1="2695.0" y1="940.3" x2="2695.0" y2="931.3" stroke="#1c1c1c" stroke-width="2.6" />
<text x="2694.0" y="972.5" font-size="33.6" text-anchor="middle" fill="#1c1c1c" >0.1</text>
<line x1="2861.3" y1="940.3" x2="2861.3" y2="931.3" stroke="#1c1c1c" stroke-width="2.6" />
<text x="2860.3" y="972.5" font-size="33.6" text-anchor="middle" fill="#1c1c1c" >0.5</text>
<line x1="3029.0" y1="940.3" x2="3029.0" y2="931.3" stroke="#1c1c1c" stroke-width="2.6" />
<text x="3028.0" y="972.5" font-size="33.6" text-anchor="middle" fill="#1c1c1c" >1.0</text>
<text x="2862.0" y="1014.6" font-size="34.4" text-anchor="middle" fill="#1c1c1c" >Loading condition</text>
<text transform="translate(2531.5,738.0) rotate(-90)" font-size="33.6" text-anchor="middle" fill="#1c1c1c">Time/s</text>
<rect x="2630.0" y="542.8" width="49.0" height="19.5" fill="#f6a872" />
<rect x="2630.0" y="571.8" width="49.0" height="22.4" fill="#e9201c" />
<text x="2688.3" y="563.0" font-size="27.7" text-anchor="start" fill="#1c1c1c" >Crystal plasticic simulation</text>
<text x="2688.3" y="592.5" font-size="27.7" text-anchor="start" fill="#1c1c1c" >CNN model</text>
<text x="2839.2" y="1080.5" font-size="55.4" text-anchor="middle" fill="#1c1c1c" >Accuracy &amp; Efficiency</text>
</svg>
</body></html>
